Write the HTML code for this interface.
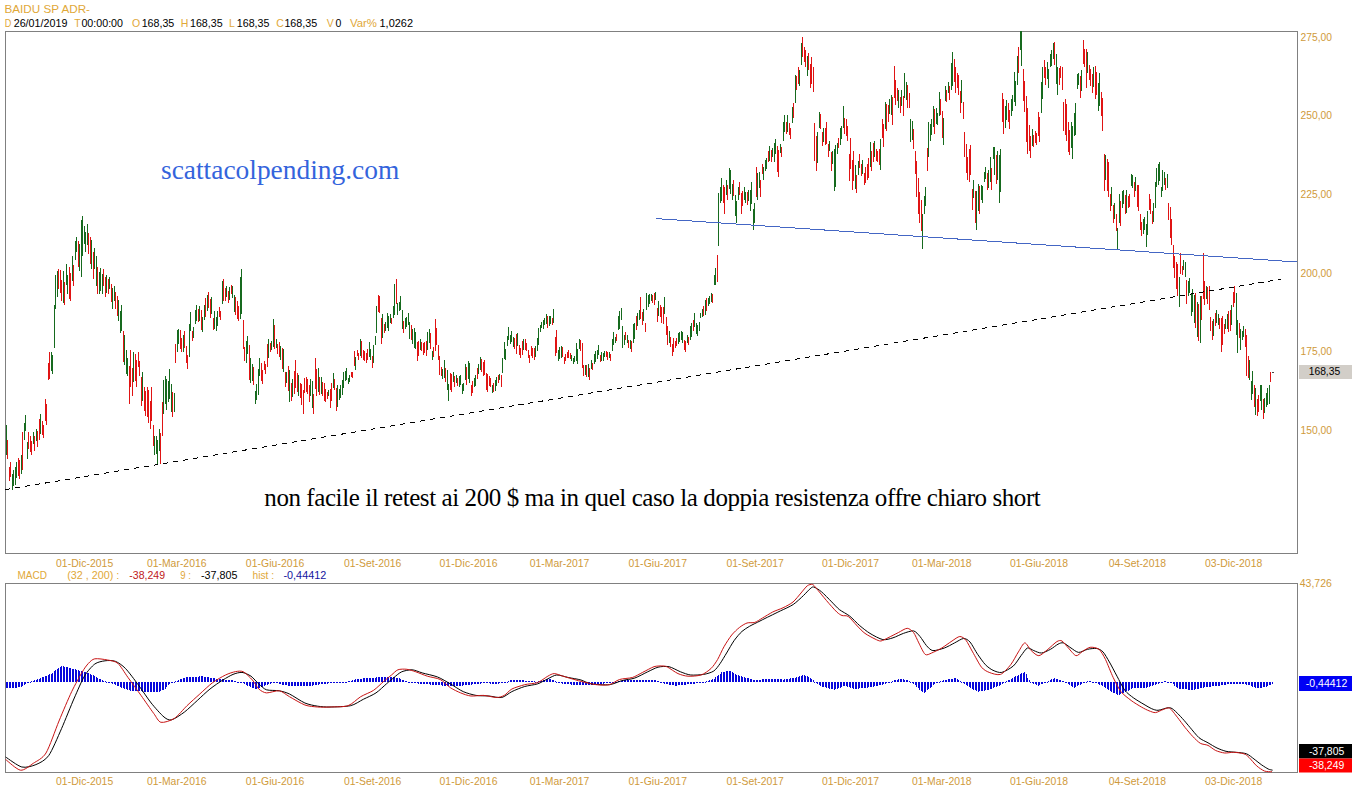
<!DOCTYPE html>
<html><head><meta charset="utf-8"><title>BAIDU SP ADR</title>
<style>
html,body{margin:0;padding:0;background:#fff;}
body{width:1352px;height:800px;overflow:hidden;}
svg{display:block;font-family:"Liberation Sans",Arial,sans-serif;}
.serif{font-family:"Liberation Serif","Times New Roman",serif;}
</style></head><body>
<svg width="1352" height="800" viewBox="0 0 1352 800">
<rect width="1352" height="800" fill="#fff"/>
<!-- frames -->
<g fill="none" stroke="#808080" stroke-width="1" shape-rendering="crispEdges">
<rect x="5.5" y="31.5" width="1292" height="522"/>
<rect x="5.5" y="583.5" width="1292" height="189"/>
</g>
<!-- price bars -->
<g shape-rendering="crispEdges">
<rect x="6" y="425.0" width="1" height="30.0" fill="#166a1e"/>
<rect x="7" y="440.0" width="1" height="19.0" fill="#e01414"/>
<rect x="9" y="466.5" width="1" height="14.5" fill="#e01414"/>
<rect x="10" y="462.0" width="1" height="14.6" fill="#e01414"/>
<rect x="12" y="474.4" width="1" height="15.6" fill="#166a1e"/>
<rect x="13" y="470.0" width="1" height="15.5" fill="#166a1e"/>
<rect x="15" y="467.0" width="1" height="18.0" fill="#166a1e"/>
<rect x="16" y="462.0" width="1" height="15.7" fill="#166a1e"/>
<rect x="18" y="458.1" width="1" height="18.3" fill="#e01414"/>
<rect x="19" y="459.8" width="1" height="19.1" fill="#e01414"/>
<rect x="21" y="455.0" width="1" height="19.0" fill="#166a1e"/>
<rect x="22" y="432.0" width="1" height="38.0" fill="#e01414"/>
<rect x="24" y="422.9" width="1" height="17.1" fill="#166a1e"/>
<rect x="25" y="415.0" width="1" height="16.2" fill="#166a1e"/>
<rect x="27" y="442.1" width="1" height="16.9" fill="#166a1e"/>
<rect x="28" y="432.0" width="1" height="17.1" fill="#e01414"/>
<rect x="30" y="436.0" width="1" height="15.9" fill="#e01414"/>
<rect x="31" y="440.8" width="1" height="14.2" fill="#e01414"/>
<rect x="33" y="432.1" width="1" height="11.5" fill="#166a1e"/>
<rect x="34" y="436.2" width="1" height="14.3" fill="#e01414"/>
<rect x="36" y="429.0" width="1" height="12.3" fill="#166a1e"/>
<rect x="37" y="431.3" width="1" height="15.7" fill="#e01414"/>
<rect x="39" y="419.1" width="1" height="20.9" fill="#e01414"/>
<rect x="40" y="414.0" width="1" height="20.1" fill="#166a1e"/>
<rect x="42" y="421.0" width="1" height="13.5" fill="#e01414"/>
<rect x="43" y="425.4" width="1" height="12.6" fill="#e01414"/>
<rect x="45" y="399.0" width="1" height="21.8" fill="#e01414"/>
<rect x="46" y="404.2" width="1" height="20.8" fill="#e01414"/>
<rect x="48" y="362.6" width="1" height="17.4" fill="#e01414"/>
<rect x="49" y="352.0" width="1" height="26.6" fill="#e01414"/>
<rect x="51" y="352.0" width="1" height="18.8" fill="#166a1e"/>
<rect x="52" y="355.4" width="1" height="18.6" fill="#166a1e"/>
<rect x="54" y="305.0" width="1" height="43.0" fill="#166a1e"/>
<rect x="55" y="275.0" width="1" height="34.0" fill="#166a1e"/>
<rect x="57" y="271.0" width="1" height="26.0" fill="#166a1e"/>
<rect x="58" y="269.0" width="1" height="20.0" fill="#e01414"/>
<rect x="60" y="270.0" width="1" height="23.3" fill="#e01414"/>
<rect x="61" y="280.2" width="1" height="20.8" fill="#e01414"/>
<rect x="63" y="271.0" width="1" height="31.8" fill="#166a1e"/>
<rect x="64" y="282.2" width="1" height="22.8" fill="#e01414"/>
<rect x="66" y="264.0" width="1" height="20.7" fill="#166a1e"/>
<rect x="67" y="274.5" width="1" height="19.5" fill="#166a1e"/>
<rect x="69" y="267.0" width="1" height="32.1" fill="#e01414"/>
<rect x="70" y="273.2" width="1" height="27.8" fill="#e01414"/>
<rect x="72" y="256.0" width="1" height="24.8" fill="#166a1e"/>
<rect x="73" y="265.2" width="1" height="20.8" fill="#e01414"/>
<rect x="75" y="240.7" width="1" height="19.3" fill="#166a1e"/>
<rect x="76" y="237.0" width="1" height="14.9" fill="#166a1e"/>
<rect x="78" y="241.0" width="1" height="26.1" fill="#e01414"/>
<rect x="79" y="243.7" width="1" height="27.3" fill="#166a1e"/>
<rect x="81" y="220.3" width="1" height="56.7" fill="#166a1e"/>
<rect x="82" y="216.0" width="1" height="39.9" fill="#166a1e"/>
<rect x="84" y="226.0" width="1" height="17.6" fill="#166a1e"/>
<rect x="85" y="232.1" width="1" height="19.9" fill="#166a1e"/>
<rect x="87" y="224.0" width="1" height="20.5" fill="#166a1e"/>
<rect x="88" y="232.7" width="1" height="21.3" fill="#e01414"/>
<rect x="90" y="237.0" width="1" height="26.6" fill="#e01414"/>
<rect x="91" y="239.8" width="1" height="29.2" fill="#166a1e"/>
<rect x="93" y="251.9" width="1" height="26.6" fill="#e01414"/>
<rect x="94" y="247.6" width="1" height="21.3" fill="#166a1e"/>
<rect x="96" y="256.0" width="1" height="30.0" fill="#166a1e"/>
<rect x="97" y="267.0" width="1" height="27.0" fill="#e01414"/>
<rect x="99" y="271.9" width="1" height="22.1" fill="#166a1e"/>
<rect x="100" y="268.0" width="1" height="23.0" fill="#166a1e"/>
<rect x="102" y="273.5" width="1" height="20.5" fill="#166a1e"/>
<rect x="103" y="269.0" width="1" height="17.2" fill="#e01414"/>
<rect x="105" y="276.8" width="1" height="20.2" fill="#e01414"/>
<rect x="106" y="275.0" width="1" height="18.3" fill="#166a1e"/>
<rect x="108" y="279.3" width="1" height="14.7" fill="#e01414"/>
<rect x="109" y="277.0" width="1" height="11.7" fill="#166a1e"/>
<rect x="111" y="284.0" width="1" height="18.2" fill="#e01414"/>
<rect x="112" y="287.7" width="1" height="21.3" fill="#166a1e"/>
<rect x="114" y="286.0" width="1" height="14.9" fill="#166a1e"/>
<rect x="115" y="291.6" width="1" height="17.4" fill="#e01414"/>
<rect x="117" y="295.5" width="1" height="20.9" fill="#e01414"/>
<rect x="118" y="299.9" width="1" height="21.1" fill="#166a1e"/>
<rect x="120" y="310.9" width="1" height="22.1" fill="#166a1e"/>
<rect x="121" y="305.0" width="1" height="26.2" fill="#166a1e"/>
<rect x="123" y="331.0" width="1" height="30.8" fill="#e01414"/>
<rect x="124" y="334.8" width="1" height="30.2" fill="#166a1e"/>
<rect x="126" y="350.0" width="1" height="23.9" fill="#166a1e"/>
<rect x="127" y="358.3" width="1" height="17.7" fill="#166a1e"/>
<rect x="129" y="365.9" width="1" height="38.1" fill="#e01414"/>
<rect x="130" y="350.0" width="1" height="36.9" fill="#e01414"/>
<rect x="132" y="367.8" width="1" height="27.7" fill="#e01414"/>
<rect x="133" y="352.0" width="1" height="29.8" fill="#166a1e"/>
<rect x="135" y="354.0" width="1" height="27.0" fill="#e01414"/>
<rect x="136" y="360.2" width="1" height="26.8" fill="#e01414"/>
<rect x="138" y="352.0" width="1" height="15.2" fill="#e01414"/>
<rect x="139" y="360.8" width="1" height="15.2" fill="#e01414"/>
<rect x="141" y="376.6" width="1" height="29.4" fill="#e01414"/>
<rect x="142" y="372.0" width="1" height="29.0" fill="#166a1e"/>
<rect x="144" y="387.0" width="1" height="23.7" fill="#e01414"/>
<rect x="145" y="391.3" width="1" height="24.7" fill="#e01414"/>
<rect x="147" y="387.0" width="1" height="30.4" fill="#e01414"/>
<rect x="148" y="389.6" width="1" height="32.9" fill="#e01414"/>
<rect x="150" y="400.9" width="1" height="28.1" fill="#e01414"/>
<rect x="151" y="387.0" width="1" height="33.8" fill="#e01414"/>
<rect x="153" y="425.0" width="1" height="21.4" fill="#e01414"/>
<rect x="154" y="435.6" width="1" height="19.4" fill="#166a1e"/>
<rect x="156" y="436.0" width="1" height="17.5" fill="#166a1e"/>
<rect x="157" y="439.9" width="1" height="24.1" fill="#166a1e"/>
<rect x="159" y="429.0" width="1" height="22.4" fill="#166a1e"/>
<rect x="160" y="432.8" width="1" height="31.2" fill="#e01414"/>
<rect x="162" y="402.0" width="1" height="34.0" fill="#e01414"/>
<rect x="163" y="380.0" width="1" height="34.0" fill="#166a1e"/>
<rect x="165" y="376.0" width="1" height="27.5" fill="#166a1e"/>
<rect x="166" y="379.2" width="1" height="30.8" fill="#166a1e"/>
<rect x="168" y="381.3" width="1" height="20.7" fill="#166a1e"/>
<rect x="169" y="369.0" width="1" height="30.2" fill="#166a1e"/>
<rect x="171" y="384.0" width="1" height="28.0" fill="#166a1e"/>
<rect x="172" y="392.0" width="1" height="25.0" fill="#e01414"/>
<rect x="174" y="393.0" width="1" height="19.0" fill="#166a1e"/>
<rect x="175" y="344.0" width="1" height="19.0" fill="#e01414"/>
<rect x="177" y="330.3" width="1" height="21.7" fill="#166a1e"/>
<rect x="178" y="329.0" width="1" height="14.5" fill="#166a1e"/>
<rect x="180" y="330.0" width="1" height="18.7" fill="#e01414"/>
<rect x="181" y="338.1" width="1" height="13.9" fill="#e01414"/>
<rect x="183" y="335.4" width="1" height="16.6" fill="#166a1e"/>
<rect x="184" y="331.0" width="1" height="17.4" fill="#e01414"/>
<rect x="186" y="346.0" width="1" height="16.7" fill="#e01414"/>
<rect x="187" y="354.7" width="1" height="14.3" fill="#e01414"/>
<rect x="189" y="324.0" width="1" height="33.0" fill="#166a1e"/>
<rect x="190" y="312.0" width="1" height="19.0" fill="#166a1e"/>
<rect x="192" y="330.8" width="1" height="10.2" fill="#e01414"/>
<rect x="193" y="326.5" width="1" height="11.6" fill="#166a1e"/>
<rect x="195" y="310.4" width="1" height="13.6" fill="#166a1e"/>
<rect x="196" y="305.0" width="1" height="16.4" fill="#166a1e"/>
<rect x="198" y="308.7" width="1" height="13.3" fill="#e01414"/>
<rect x="199" y="306.0" width="1" height="14.8" fill="#166a1e"/>
<rect x="201" y="310.0" width="1" height="20.2" fill="#e01414"/>
<rect x="202" y="317.4" width="1" height="14.6" fill="#166a1e"/>
<rect x="204" y="305.4" width="1" height="14.6" fill="#166a1e"/>
<rect x="205" y="298.0" width="1" height="19.4" fill="#e01414"/>
<rect x="207" y="295.0" width="1" height="16.0" fill="#166a1e"/>
<rect x="208" y="291.6" width="1" height="16.0" fill="#e01414"/>
<rect x="210" y="298.6" width="1" height="18.9" fill="#e01414"/>
<rect x="211" y="297.0" width="1" height="16.8" fill="#166a1e"/>
<rect x="213" y="317.5" width="1" height="12.5" fill="#e01414"/>
<rect x="214" y="311.0" width="1" height="18.0" fill="#166a1e"/>
<rect x="216" y="316.9" width="1" height="14.1" fill="#166a1e"/>
<rect x="217" y="311.0" width="1" height="15.0" fill="#166a1e"/>
<rect x="219" y="307.0" width="1" height="9.9" fill="#e01414"/>
<rect x="220" y="311.2" width="1" height="8.8" fill="#e01414"/>
<rect x="222" y="280.5" width="1" height="23.5" fill="#166a1e"/>
<rect x="223" y="279.0" width="1" height="21.7" fill="#e01414"/>
<rect x="225" y="287.8" width="1" height="12.8" fill="#e01414"/>
<rect x="226" y="286.0" width="1" height="11.4" fill="#166a1e"/>
<rect x="228" y="291.0" width="1" height="12.0" fill="#e01414"/>
<rect x="229" y="287.0" width="1" height="12.5" fill="#166a1e"/>
<rect x="231" y="285.0" width="1" height="9.2" fill="#e01414"/>
<rect x="232" y="285.7" width="1" height="12.3" fill="#166a1e"/>
<rect x="234" y="295.0" width="1" height="16.9" fill="#166a1e"/>
<rect x="235" y="297.3" width="1" height="17.7" fill="#e01414"/>
<rect x="237" y="300.6" width="1" height="18.7" fill="#e01414"/>
<rect x="238" y="306.1" width="1" height="14.9" fill="#e01414"/>
<rect x="240" y="276.8" width="1" height="41.8" fill="#166a1e"/>
<rect x="241" y="269.0" width="1" height="45.3" fill="#166a1e"/>
<rect x="243" y="320.0" width="1" height="29.0" fill="#e01414"/>
<rect x="244" y="347.0" width="1" height="14.0" fill="#e01414"/>
<rect x="246" y="340.7" width="1" height="21.8" fill="#166a1e"/>
<rect x="247" y="335.5" width="1" height="18.5" fill="#166a1e"/>
<rect x="249" y="344.5" width="1" height="35.5" fill="#e01414"/>
<rect x="250" y="357.6" width="1" height="25.4" fill="#166a1e"/>
<rect x="252" y="363.6" width="1" height="17.4" fill="#166a1e"/>
<rect x="253" y="366.9" width="1" height="18.1" fill="#e01414"/>
<rect x="255" y="390.5" width="1" height="13.5" fill="#166a1e"/>
<rect x="256" y="384.0" width="1" height="15.7" fill="#166a1e"/>
<rect x="258" y="369.0" width="1" height="26.0" fill="#166a1e"/>
<rect x="259" y="358.0" width="1" height="18.0" fill="#166a1e"/>
<rect x="261" y="362.5" width="1" height="18.4" fill="#e01414"/>
<rect x="262" y="370.3" width="1" height="13.7" fill="#e01414"/>
<rect x="264" y="361.0" width="1" height="8.8" fill="#e01414"/>
<rect x="265" y="363.6" width="1" height="10.4" fill="#e01414"/>
<rect x="267" y="344.2" width="1" height="22.8" fill="#e01414"/>
<rect x="268" y="339.0" width="1" height="19.3" fill="#166a1e"/>
<rect x="270" y="342.7" width="1" height="9.3" fill="#e01414"/>
<rect x="271" y="341.0" width="1" height="8.6" fill="#166a1e"/>
<rect x="273" y="318.6" width="1" height="28.7" fill="#166a1e"/>
<rect x="274" y="324.7" width="1" height="24.3" fill="#e01414"/>
<rect x="276" y="339.0" width="1" height="9.1" fill="#166a1e"/>
<rect x="277" y="343.9" width="1" height="9.6" fill="#e01414"/>
<rect x="279" y="342.0" width="1" height="15.4" fill="#e01414"/>
<rect x="280" y="346.3" width="1" height="13.7" fill="#166a1e"/>
<rect x="282" y="348.0" width="1" height="20.7" fill="#e01414"/>
<rect x="283" y="349.3" width="1" height="22.2" fill="#166a1e"/>
<rect x="285" y="372.4" width="1" height="14.6" fill="#e01414"/>
<rect x="286" y="371.5" width="1" height="11.9" fill="#166a1e"/>
<rect x="288" y="366.0" width="1" height="25.1" fill="#e01414"/>
<rect x="289" y="369.5" width="1" height="32.5" fill="#166a1e"/>
<rect x="291" y="383.3" width="1" height="17.7" fill="#e01414"/>
<rect x="292" y="379.0" width="1" height="18.2" fill="#166a1e"/>
<rect x="294" y="370.8" width="1" height="23.2" fill="#e01414"/>
<rect x="295" y="360.0" width="1" height="28.4" fill="#e01414"/>
<rect x="297" y="372.6" width="1" height="19.8" fill="#e01414"/>
<rect x="298" y="375.3" width="1" height="20.7" fill="#166a1e"/>
<rect x="300" y="383.0" width="1" height="14.9" fill="#e01414"/>
<rect x="301" y="384.2" width="1" height="20.8" fill="#e01414"/>
<rect x="303" y="389.5" width="1" height="24.5" fill="#e01414"/>
<rect x="304" y="378.0" width="1" height="15.0" fill="#e01414"/>
<rect x="306" y="377.0" width="1" height="14.5" fill="#e01414"/>
<rect x="307" y="378.9" width="1" height="15.1" fill="#e01414"/>
<rect x="309" y="385.4" width="1" height="16.4" fill="#e01414"/>
<rect x="310" y="379.0" width="1" height="16.7" fill="#166a1e"/>
<rect x="312" y="380.5" width="1" height="27.0" fill="#166a1e"/>
<rect x="313" y="394.0" width="1" height="20.0" fill="#e01414"/>
<rect x="315" y="358.0" width="1" height="31.3" fill="#e01414"/>
<rect x="316" y="369.4" width="1" height="26.6" fill="#e01414"/>
<rect x="318" y="367.8" width="1" height="23.9" fill="#166a1e"/>
<rect x="319" y="377.3" width="1" height="17.7" fill="#e01414"/>
<rect x="321" y="377.0" width="1" height="17.0" fill="#166a1e"/>
<rect x="322" y="381.6" width="1" height="14.4" fill="#e01414"/>
<rect x="324" y="383.0" width="1" height="17.6" fill="#e01414"/>
<rect x="325" y="388.5" width="1" height="13.5" fill="#e01414"/>
<rect x="327" y="391.8" width="1" height="6.7" fill="#e01414"/>
<rect x="328" y="389.5" width="1" height="6.9" fill="#166a1e"/>
<rect x="330" y="388.8" width="1" height="18.7" fill="#e01414"/>
<rect x="331" y="383.0" width="1" height="18.2" fill="#e01414"/>
<rect x="333" y="372.6" width="1" height="14.9" fill="#166a1e"/>
<rect x="334" y="378.7" width="1" height="10.8" fill="#e01414"/>
<rect x="336" y="388.1" width="1" height="22.9" fill="#e01414"/>
<rect x="337" y="385.0" width="1" height="21.7" fill="#166a1e"/>
<rect x="339" y="388.8" width="1" height="10.8" fill="#166a1e"/>
<rect x="340" y="385.0" width="1" height="13.0" fill="#166a1e"/>
<rect x="342" y="379.7" width="1" height="15.3" fill="#166a1e"/>
<rect x="343" y="371.5" width="1" height="16.2" fill="#166a1e"/>
<rect x="345" y="370.8" width="1" height="9.7" fill="#166a1e"/>
<rect x="346" y="368.0" width="1" height="11.8" fill="#166a1e"/>
<rect x="348" y="378.2" width="1" height="5.8" fill="#166a1e"/>
<rect x="349" y="375.0" width="1" height="6.5" fill="#166a1e"/>
<rect x="351" y="371.5" width="1" height="5.9" fill="#e01414"/>
<rect x="352" y="371.6" width="1" height="6.4" fill="#e01414"/>
<rect x="354" y="351.0" width="1" height="15.2" fill="#e01414"/>
<rect x="355" y="356.8" width="1" height="13.2" fill="#166a1e"/>
<rect x="357" y="350.0" width="1" height="6.3" fill="#e01414"/>
<rect x="358" y="353.2" width="1" height="6.8" fill="#e01414"/>
<rect x="360" y="339.0" width="1" height="16.8" fill="#166a1e"/>
<rect x="361" y="341.0" width="1" height="17.0" fill="#e01414"/>
<rect x="363" y="350.0" width="1" height="9.7" fill="#e01414"/>
<rect x="364" y="351.1" width="1" height="9.9" fill="#e01414"/>
<rect x="366" y="352.9" width="1" height="9.6" fill="#e01414"/>
<rect x="367" y="349.0" width="1" height="10.7" fill="#e01414"/>
<rect x="369" y="342.0" width="1" height="15.3" fill="#166a1e"/>
<rect x="370" y="348.5" width="1" height="11.5" fill="#166a1e"/>
<rect x="372" y="356.0" width="1" height="12.0" fill="#e01414"/>
<rect x="373" y="344.5" width="1" height="18.0" fill="#166a1e"/>
<rect x="375" y="335.5" width="1" height="9.0" fill="#166a1e"/>
<rect x="376" y="306.0" width="1" height="27.0" fill="#166a1e"/>
<rect x="378" y="295.0" width="1" height="16.8" fill="#e01414"/>
<rect x="379" y="296.4" width="1" height="16.6" fill="#e01414"/>
<rect x="381" y="318.4" width="1" height="25.6" fill="#e01414"/>
<rect x="382" y="314.0" width="1" height="23.8" fill="#166a1e"/>
<rect x="384" y="324.4" width="1" height="8.6" fill="#e01414"/>
<rect x="385" y="322.0" width="1" height="9.1" fill="#166a1e"/>
<rect x="387" y="313.0" width="1" height="14.5" fill="#166a1e"/>
<rect x="388" y="315.8" width="1" height="15.2" fill="#166a1e"/>
<rect x="390" y="314.0" width="1" height="9.0" fill="#166a1e"/>
<rect x="391" y="317.5" width="1" height="6.5" fill="#e01414"/>
<rect x="393" y="306.0" width="1" height="11.5" fill="#166a1e"/>
<rect x="394" y="284.0" width="1" height="31.0" fill="#166a1e"/>
<rect x="396" y="279.0" width="1" height="25.0" fill="#e01414"/>
<rect x="397" y="303.0" width="1" height="12.0" fill="#166a1e"/>
<rect x="399" y="301.5" width="1" height="9.5" fill="#166a1e"/>
<rect x="400" y="296.0" width="1" height="13.5" fill="#166a1e"/>
<rect x="402" y="309.6" width="1" height="19.4" fill="#166a1e"/>
<rect x="403" y="321.0" width="1" height="12.0" fill="#e01414"/>
<rect x="405" y="318.1" width="1" height="10.6" fill="#166a1e"/>
<rect x="406" y="316.8" width="1" height="9.7" fill="#166a1e"/>
<rect x="408" y="313.0" width="1" height="12.0" fill="#166a1e"/>
<rect x="409" y="322.0" width="1" height="17.0" fill="#166a1e"/>
<rect x="411" y="324.6" width="1" height="15.0" fill="#e01414"/>
<rect x="412" y="329.4" width="1" height="14.3" fill="#166a1e"/>
<rect x="414" y="327.6" width="1" height="20.1" fill="#166a1e"/>
<rect x="415" y="332.3" width="1" height="16.7" fill="#166a1e"/>
<rect x="417" y="342.0" width="1" height="19.0" fill="#e01414"/>
<rect x="418" y="341.0" width="1" height="15.0" fill="#e01414"/>
<rect x="420" y="339.0" width="1" height="10.6" fill="#166a1e"/>
<rect x="421" y="341.8" width="1" height="9.2" fill="#e01414"/>
<rect x="423" y="342.9" width="1" height="11.7" fill="#e01414"/>
<rect x="424" y="342.0" width="1" height="10.7" fill="#e01414"/>
<rect x="426" y="340.8" width="1" height="15.2" fill="#e01414"/>
<rect x="427" y="332.0" width="1" height="18.2" fill="#166a1e"/>
<rect x="429" y="329.0" width="1" height="14.2" fill="#166a1e"/>
<rect x="430" y="333.1" width="1" height="15.9" fill="#e01414"/>
<rect x="432" y="351.1" width="1" height="8.9" fill="#166a1e"/>
<rect x="433" y="347.0" width="1" height="9.9" fill="#e01414"/>
<rect x="435" y="319.0" width="1" height="32.0" fill="#e01414"/>
<rect x="436" y="327.6" width="1" height="16.9" fill="#e01414"/>
<rect x="438" y="344.5" width="1" height="15.5" fill="#e01414"/>
<rect x="439" y="356.0" width="1" height="19.0" fill="#e01414"/>
<rect x="441" y="367.0" width="1" height="9.3" fill="#e01414"/>
<rect x="442" y="368.9" width="1" height="10.1" fill="#166a1e"/>
<rect x="444" y="360.0" width="1" height="17.8" fill="#166a1e"/>
<rect x="445" y="367.7" width="1" height="13.9" fill="#e01414"/>
<rect x="447" y="370.0" width="1" height="19.5" fill="#166a1e"/>
<rect x="448" y="384.0" width="1" height="17.0" fill="#166a1e"/>
<rect x="450" y="372.6" width="1" height="17.0" fill="#e01414"/>
<rect x="451" y="373.7" width="1" height="18.3" fill="#e01414"/>
<rect x="453" y="371.5" width="1" height="10.8" fill="#166a1e"/>
<rect x="454" y="375.8" width="1" height="11.2" fill="#e01414"/>
<rect x="456" y="375.0" width="1" height="8.1" fill="#166a1e"/>
<rect x="457" y="377.8" width="1" height="8.2" fill="#e01414"/>
<rect x="459" y="376.1" width="1" height="10.9" fill="#166a1e"/>
<rect x="460" y="375.0" width="1" height="10.3" fill="#166a1e"/>
<rect x="462" y="384.3" width="1" height="9.7" fill="#166a1e"/>
<rect x="463" y="383.0" width="1" height="7.7" fill="#166a1e"/>
<rect x="465" y="363.6" width="1" height="16.4" fill="#166a1e"/>
<rect x="466" y="367.3" width="1" height="17.7" fill="#e01414"/>
<rect x="468" y="361.0" width="1" height="17.5" fill="#166a1e"/>
<rect x="469" y="363.3" width="1" height="19.7" fill="#166a1e"/>
<rect x="471" y="384.5" width="1" height="11.5" fill="#e01414"/>
<rect x="472" y="380.5" width="1" height="12.8" fill="#e01414"/>
<rect x="474" y="378.0" width="1" height="9.0" fill="#166a1e"/>
<rect x="475" y="375.0" width="1" height="10.8" fill="#166a1e"/>
<rect x="477" y="368.1" width="1" height="10.9" fill="#e01414"/>
<rect x="478" y="363.6" width="1" height="10.7" fill="#166a1e"/>
<rect x="480" y="357.0" width="1" height="13.3" fill="#166a1e"/>
<rect x="481" y="359.2" width="1" height="12.3" fill="#e01414"/>
<rect x="483" y="362.0" width="1" height="14.0" fill="#e01414"/>
<rect x="484" y="360.0" width="1" height="14.8" fill="#e01414"/>
<rect x="486" y="372.6" width="1" height="17.7" fill="#e01414"/>
<rect x="487" y="374.4" width="1" height="17.6" fill="#e01414"/>
<rect x="489" y="376.0" width="1" height="9.5" fill="#e01414"/>
<rect x="490" y="377.5" width="1" height="9.5" fill="#e01414"/>
<rect x="492" y="384.9" width="1" height="8.1" fill="#166a1e"/>
<rect x="493" y="383.0" width="1" height="8.9" fill="#e01414"/>
<rect x="495" y="379.5" width="1" height="11.1" fill="#166a1e"/>
<rect x="496" y="377.0" width="1" height="9.0" fill="#166a1e"/>
<rect x="498" y="375.0" width="1" height="8.0" fill="#e01414"/>
<rect x="499" y="374.0" width="1" height="5.6" fill="#166a1e"/>
<rect x="501" y="375.0" width="1" height="12.0" fill="#e01414"/>
<rect x="502" y="358.0" width="1" height="14.6" fill="#166a1e"/>
<rect x="504" y="342.0" width="1" height="16.6" fill="#166a1e"/>
<rect x="505" y="348.7" width="1" height="11.3" fill="#166a1e"/>
<rect x="507" y="335.5" width="1" height="10.1" fill="#166a1e"/>
<rect x="508" y="326.5" width="1" height="13.5" fill="#166a1e"/>
<rect x="510" y="335.2" width="1" height="9.1" fill="#166a1e"/>
<rect x="511" y="331.3" width="1" height="10.2" fill="#166a1e"/>
<rect x="513" y="336.6" width="1" height="10.5" fill="#166a1e"/>
<rect x="514" y="338.0" width="1" height="11.0" fill="#e01414"/>
<rect x="516" y="334.3" width="1" height="19.2" fill="#e01414"/>
<rect x="517" y="333.0" width="1" height="13.4" fill="#166a1e"/>
<rect x="519" y="344.5" width="1" height="10.7" fill="#e01414"/>
<rect x="520" y="347.7" width="1" height="10.3" fill="#e01414"/>
<rect x="522" y="340.8" width="1" height="13.8" fill="#e01414"/>
<rect x="523" y="339.0" width="1" height="10.6" fill="#166a1e"/>
<rect x="525" y="339.0" width="1" height="11.4" fill="#e01414"/>
<rect x="526" y="343.3" width="1" height="7.7" fill="#e01414"/>
<rect x="528" y="350.0" width="1" height="8.0" fill="#e01414"/>
<rect x="529" y="354.5" width="1" height="8.0" fill="#e01414"/>
<rect x="531" y="345.6" width="1" height="10.8" fill="#e01414"/>
<rect x="532" y="347.6" width="1" height="10.4" fill="#e01414"/>
<rect x="534" y="348.4" width="1" height="11.6" fill="#e01414"/>
<rect x="535" y="345.6" width="1" height="11.4" fill="#166a1e"/>
<rect x="537" y="338.0" width="1" height="13.0" fill="#166a1e"/>
<rect x="538" y="327.6" width="1" height="16.9" fill="#166a1e"/>
<rect x="540" y="324.8" width="1" height="7.2" fill="#166a1e"/>
<rect x="541" y="322.0" width="1" height="6.2" fill="#166a1e"/>
<rect x="543" y="319.8" width="1" height="9.2" fill="#166a1e"/>
<rect x="544" y="317.5" width="1" height="7.8" fill="#166a1e"/>
<rect x="546" y="314.0" width="1" height="10.3" fill="#166a1e"/>
<rect x="547" y="315.6" width="1" height="12.0" fill="#e01414"/>
<rect x="549" y="316.4" width="1" height="9.8" fill="#166a1e"/>
<rect x="550" y="315.9" width="1" height="8.2" fill="#166a1e"/>
<rect x="552" y="317.5" width="1" height="7.5" fill="#e01414"/>
<rect x="553" y="309.0" width="1" height="14.0" fill="#166a1e"/>
<rect x="555" y="337.3" width="1" height="18.7" fill="#e01414"/>
<rect x="556" y="330.0" width="1" height="23.0" fill="#e01414"/>
<rect x="558" y="349.6" width="1" height="11.4" fill="#166a1e"/>
<rect x="559" y="347.0" width="1" height="11.6" fill="#166a1e"/>
<rect x="561" y="345.6" width="1" height="12.4" fill="#166a1e"/>
<rect x="562" y="347.0" width="1" height="10.0" fill="#e01414"/>
<rect x="564" y="357.3" width="1" height="6.3" fill="#e01414"/>
<rect x="565" y="353.5" width="1" height="7.9" fill="#e01414"/>
<rect x="567" y="351.8" width="1" height="6.2" fill="#e01414"/>
<rect x="568" y="350.0" width="1" height="7.5" fill="#e01414"/>
<rect x="570" y="353.0" width="1" height="6.4" fill="#e01414"/>
<rect x="571" y="354.6" width="1" height="6.4" fill="#166a1e"/>
<rect x="573" y="357.8" width="1" height="6.2" fill="#166a1e"/>
<rect x="574" y="356.0" width="1" height="6.2" fill="#166a1e"/>
<rect x="576" y="343.0" width="1" height="18.3" fill="#166a1e"/>
<rect x="577" y="349.4" width="1" height="14.6" fill="#166a1e"/>
<rect x="579" y="339.0" width="1" height="10.0" fill="#166a1e"/>
<rect x="580" y="339.9" width="1" height="10.7" fill="#e01414"/>
<rect x="582" y="343.0" width="1" height="24.6" fill="#e01414"/>
<rect x="583" y="365.0" width="1" height="10.5" fill="#e01414"/>
<rect x="585" y="364.5" width="1" height="10.0" fill="#166a1e"/>
<rect x="586" y="365.2" width="1" height="12.2" fill="#e01414"/>
<rect x="588" y="364.0" width="1" height="12.9" fill="#166a1e"/>
<rect x="589" y="368.0" width="1" height="11.5" fill="#e01414"/>
<rect x="591" y="360.0" width="1" height="9.3" fill="#166a1e"/>
<rect x="592" y="362.7" width="1" height="7.3" fill="#e01414"/>
<rect x="594" y="353.8" width="1" height="10.2" fill="#166a1e"/>
<rect x="595" y="350.6" width="1" height="11.2" fill="#166a1e"/>
<rect x="597" y="350.1" width="1" height="8.4" fill="#166a1e"/>
<rect x="598" y="345.0" width="1" height="10.1" fill="#166a1e"/>
<rect x="600" y="355.0" width="1" height="7.0" fill="#e01414"/>
<rect x="601" y="352.0" width="1" height="8.5" fill="#166a1e"/>
<rect x="603" y="353.2" width="1" height="7.8" fill="#166a1e"/>
<rect x="604" y="350.6" width="1" height="6.5" fill="#166a1e"/>
<rect x="606" y="350.6" width="1" height="6.6" fill="#e01414"/>
<rect x="607" y="352.3" width="1" height="7.7" fill="#e01414"/>
<rect x="609" y="352.0" width="1" height="6.2" fill="#166a1e"/>
<rect x="610" y="353.6" width="1" height="7.4" fill="#e01414"/>
<rect x="612" y="338.5" width="1" height="12.1" fill="#166a1e"/>
<rect x="613" y="332.0" width="1" height="13.1" fill="#166a1e"/>
<rect x="615" y="337.0" width="1" height="6.0" fill="#166a1e"/>
<rect x="616" y="333.5" width="1" height="7.5" fill="#e01414"/>
<rect x="618" y="315.8" width="1" height="13.8" fill="#166a1e"/>
<rect x="619" y="311.0" width="1" height="17.6" fill="#166a1e"/>
<rect x="621" y="308.0" width="1" height="12.0" fill="#166a1e"/>
<rect x="622" y="325.7" width="1" height="22.3" fill="#166a1e"/>
<rect x="624" y="335.2" width="1" height="9.8" fill="#166a1e"/>
<rect x="625" y="332.0" width="1" height="8.4" fill="#e01414"/>
<rect x="627" y="335.2" width="1" height="8.0" fill="#166a1e"/>
<rect x="628" y="339.7" width="1" height="8.1" fill="#e01414"/>
<rect x="630" y="340.0" width="1" height="9.3" fill="#166a1e"/>
<rect x="631" y="341.3" width="1" height="10.7" fill="#e01414"/>
<rect x="633" y="324.4" width="1" height="18.6" fill="#166a1e"/>
<rect x="634" y="323.0" width="1" height="16.4" fill="#166a1e"/>
<rect x="636" y="316.3" width="1" height="13.3" fill="#e01414"/>
<rect x="637" y="312.5" width="1" height="13.0" fill="#166a1e"/>
<rect x="639" y="310.0" width="1" height="10.0" fill="#166a1e"/>
<rect x="640" y="297.0" width="1" height="22.0" fill="#e01414"/>
<rect x="642" y="311.5" width="1" height="13.6" fill="#e01414"/>
<rect x="643" y="309.2" width="1" height="11.8" fill="#166a1e"/>
<rect x="645" y="323.0" width="1" height="9.0" fill="#e01414"/>
<rect x="646" y="293.0" width="1" height="17.0" fill="#166a1e"/>
<rect x="648" y="295.4" width="1" height="11.1" fill="#166a1e"/>
<rect x="649" y="293.5" width="1" height="10.5" fill="#166a1e"/>
<rect x="651" y="294.0" width="1" height="6.5" fill="#166a1e"/>
<rect x="652" y="294.5" width="1" height="8.5" fill="#e01414"/>
<rect x="654" y="293.3" width="1" height="11.4" fill="#e01414"/>
<rect x="655" y="292.0" width="1" height="8.1" fill="#166a1e"/>
<rect x="657" y="308.0" width="1" height="13.7" fill="#e01414"/>
<rect x="658" y="300.7" width="1" height="15.7" fill="#166a1e"/>
<rect x="660" y="304.7" width="1" height="11.8" fill="#e01414"/>
<rect x="661" y="307.0" width="1" height="16.0" fill="#e01414"/>
<rect x="663" y="307.2" width="1" height="16.8" fill="#e01414"/>
<rect x="664" y="297.0" width="1" height="17.2" fill="#166a1e"/>
<rect x="666" y="316.5" width="1" height="18.4" fill="#e01414"/>
<rect x="667" y="326.4" width="1" height="18.6" fill="#e01414"/>
<rect x="669" y="331.0" width="1" height="12.2" fill="#166a1e"/>
<rect x="670" y="336.8" width="1" height="9.9" fill="#e01414"/>
<rect x="672" y="344.1" width="1" height="11.9" fill="#e01414"/>
<rect x="673" y="337.5" width="1" height="14.7" fill="#e01414"/>
<rect x="675" y="341.4" width="1" height="6.6" fill="#e01414"/>
<rect x="676" y="337.5" width="1" height="8.1" fill="#e01414"/>
<rect x="678" y="333.1" width="1" height="10.9" fill="#166a1e"/>
<rect x="679" y="332.0" width="1" height="9.8" fill="#166a1e"/>
<rect x="681" y="331.0" width="1" height="9.0" fill="#166a1e"/>
<rect x="682" y="332.4" width="1" height="10.3" fill="#166a1e"/>
<rect x="684" y="340.0" width="1" height="9.5" fill="#e01414"/>
<rect x="685" y="341.1" width="1" height="10.9" fill="#e01414"/>
<rect x="687" y="335.0" width="1" height="8.4" fill="#166a1e"/>
<rect x="688" y="337.0" width="1" height="8.0" fill="#e01414"/>
<rect x="690" y="326.2" width="1" height="13.8" fill="#166a1e"/>
<rect x="691" y="323.0" width="1" height="13.8" fill="#166a1e"/>
<rect x="693" y="319.5" width="1" height="11.5" fill="#e01414"/>
<rect x="694" y="312.5" width="1" height="14.7" fill="#166a1e"/>
<rect x="696" y="323.0" width="1" height="11.2" fill="#166a1e"/>
<rect x="697" y="324.7" width="1" height="11.3" fill="#166a1e"/>
<rect x="699" y="321.7" width="1" height="9.3" fill="#166a1e"/>
<rect x="700" y="312.5" width="1" height="5.5" fill="#166a1e"/>
<rect x="702" y="309.2" width="1" height="7.3" fill="#166a1e"/>
<rect x="703" y="306.0" width="1" height="9.6" fill="#e01414"/>
<rect x="705" y="300.4" width="1" height="14.6" fill="#166a1e"/>
<rect x="706" y="298.0" width="1" height="12.6" fill="#e01414"/>
<rect x="708" y="298.1" width="1" height="7.9" fill="#166a1e"/>
<rect x="709" y="295.5" width="1" height="8.5" fill="#166a1e"/>
<rect x="711" y="293.0" width="1" height="8.7" fill="#166a1e"/>
<rect x="712" y="294.1" width="1" height="8.9" fill="#e01414"/>
<rect x="714" y="274.5" width="1" height="10.5" fill="#166a1e"/>
<rect x="715" y="268.0" width="1" height="17.0" fill="#166a1e"/>
<rect x="717" y="255.0" width="1" height="27.0" fill="#e01414"/>
<rect x="718" y="192.5" width="1" height="53.1" fill="#166a1e"/>
<rect x="720" y="186.6" width="1" height="15.9" fill="#166a1e"/>
<rect x="721" y="178.0" width="1" height="23.1" fill="#166a1e"/>
<rect x="723" y="185.0" width="1" height="18.4" fill="#e01414"/>
<rect x="724" y="187.0" width="1" height="27.0" fill="#e01414"/>
<rect x="726" y="179.5" width="1" height="15.3" fill="#166a1e"/>
<rect x="727" y="184.6" width="1" height="15.0" fill="#e01414"/>
<rect x="729" y="168.0" width="1" height="20.8" fill="#166a1e"/>
<rect x="730" y="169.9" width="1" height="24.1" fill="#166a1e"/>
<rect x="732" y="184.2" width="1" height="15.4" fill="#166a1e"/>
<rect x="733" y="179.5" width="1" height="16.9" fill="#e01414"/>
<rect x="735" y="195.0" width="1" height="20.5" fill="#166a1e"/>
<rect x="736" y="200.7" width="1" height="21.9" fill="#166a1e"/>
<rect x="738" y="187.2" width="1" height="12.4" fill="#166a1e"/>
<rect x="739" y="182.0" width="1" height="12.9" fill="#e01414"/>
<rect x="741" y="193.1" width="1" height="20.9" fill="#e01414"/>
<rect x="742" y="191.0" width="1" height="14.8" fill="#e01414"/>
<rect x="744" y="186.7" width="1" height="13.0" fill="#166a1e"/>
<rect x="745" y="191.5" width="1" height="11.0" fill="#166a1e"/>
<rect x="747" y="191.7" width="1" height="13.3" fill="#e01414"/>
<rect x="748" y="189.6" width="1" height="11.7" fill="#166a1e"/>
<rect x="750" y="189.7" width="1" height="21.3" fill="#166a1e"/>
<rect x="751" y="182.0" width="1" height="21.5" fill="#166a1e"/>
<rect x="753" y="208.9" width="1" height="21.1" fill="#166a1e"/>
<rect x="754" y="202.5" width="1" height="20.0" fill="#166a1e"/>
<rect x="756" y="166.6" width="1" height="30.5" fill="#e01414"/>
<rect x="757" y="172.9" width="1" height="26.7" fill="#166a1e"/>
<rect x="759" y="172.0" width="1" height="16.2" fill="#166a1e"/>
<rect x="760" y="180.4" width="1" height="16.4" fill="#e01414"/>
<rect x="762" y="163.7" width="1" height="10.2" fill="#e01414"/>
<rect x="763" y="167.4" width="1" height="12.1" fill="#166a1e"/>
<rect x="765" y="159.9" width="1" height="11.1" fill="#166a1e"/>
<rect x="766" y="158.0" width="1" height="11.0" fill="#166a1e"/>
<rect x="768" y="150.8" width="1" height="11.2" fill="#e01414"/>
<rect x="769" y="146.0" width="1" height="15.0" fill="#166a1e"/>
<rect x="771" y="149.7" width="1" height="12.3" fill="#e01414"/>
<rect x="772" y="148.0" width="1" height="9.0" fill="#166a1e"/>
<rect x="774" y="142.5" width="1" height="19.5" fill="#166a1e"/>
<rect x="775" y="139.0" width="1" height="14.9" fill="#166a1e"/>
<rect x="777" y="146.0" width="1" height="26.0" fill="#e01414"/>
<rect x="778" y="150.4" width="1" height="26.2" fill="#e01414"/>
<rect x="780" y="143.6" width="1" height="9.5" fill="#166a1e"/>
<rect x="781" y="147.3" width="1" height="9.2" fill="#e01414"/>
<rect x="783" y="122.2" width="1" height="18.5" fill="#166a1e"/>
<rect x="784" y="114.8" width="1" height="17.1" fill="#166a1e"/>
<rect x="786" y="121.5" width="1" height="12.0" fill="#e01414"/>
<rect x="787" y="114.8" width="1" height="17.3" fill="#166a1e"/>
<rect x="789" y="123.0" width="1" height="12.2" fill="#e01414"/>
<rect x="790" y="128.0" width="1" height="11.0" fill="#e01414"/>
<rect x="792" y="106.6" width="1" height="16.4" fill="#166a1e"/>
<rect x="793" y="103.0" width="1" height="14.5" fill="#e01414"/>
<rect x="795" y="74.6" width="1" height="28.4" fill="#166a1e"/>
<rect x="796" y="76.0" width="1" height="14.0" fill="#e01414"/>
<rect x="798" y="67.0" width="1" height="17.4" fill="#e01414"/>
<rect x="799" y="69.5" width="1" height="16.5" fill="#166a1e"/>
<rect x="801" y="43.0" width="1" height="21.5" fill="#166a1e"/>
<rect x="802" y="37.0" width="1" height="20.0" fill="#e01414"/>
<rect x="804" y="47.0" width="1" height="14.8" fill="#e01414"/>
<rect x="805" y="50.4" width="1" height="16.6" fill="#e01414"/>
<rect x="807" y="55.6" width="1" height="20.4" fill="#166a1e"/>
<rect x="808" y="53.0" width="1" height="17.2" fill="#e01414"/>
<rect x="810" y="64.0" width="1" height="23.5" fill="#e01414"/>
<rect x="811" y="57.0" width="1" height="26.9" fill="#e01414"/>
<rect x="813" y="67.0" width="1" height="24.8" fill="#e01414"/>
<rect x="814" y="123.0" width="1" height="37.8" fill="#e01414"/>
<rect x="816" y="136.2" width="1" height="34.8" fill="#e01414"/>
<rect x="817" y="132.0" width="1" height="31.4" fill="#166a1e"/>
<rect x="819" y="112.0" width="1" height="15.5" fill="#166a1e"/>
<rect x="820" y="114.4" width="1" height="14.6" fill="#e01414"/>
<rect x="822" y="132.0" width="1" height="14.0" fill="#e01414"/>
<rect x="823" y="127.8" width="1" height="14.4" fill="#166a1e"/>
<rect x="825" y="128.1" width="1" height="16.9" fill="#e01414"/>
<rect x="826" y="122.0" width="1" height="21.6" fill="#e01414"/>
<rect x="828" y="144.3" width="1" height="12.2" fill="#e01414"/>
<rect x="829" y="140.7" width="1" height="10.1" fill="#166a1e"/>
<rect x="831" y="152.4" width="1" height="18.6" fill="#e01414"/>
<rect x="832" y="150.8" width="1" height="13.1" fill="#166a1e"/>
<rect x="834" y="148.6" width="1" height="42.4" fill="#166a1e"/>
<rect x="835" y="145.0" width="1" height="42.2" fill="#166a1e"/>
<rect x="837" y="142.5" width="1" height="11.1" fill="#166a1e"/>
<rect x="838" y="137.8" width="1" height="10.5" fill="#e01414"/>
<rect x="840" y="128.3" width="1" height="16.7" fill="#166a1e"/>
<rect x="841" y="126.0" width="1" height="13.3" fill="#166a1e"/>
<rect x="843" y="106.0" width="1" height="21.8" fill="#166a1e"/>
<rect x="844" y="117.7" width="1" height="15.8" fill="#e01414"/>
<rect x="846" y="119.0" width="1" height="17.2" fill="#e01414"/>
<rect x="847" y="125.6" width="1" height="15.1" fill="#e01414"/>
<rect x="849" y="153.8" width="1" height="27.2" fill="#e01414"/>
<rect x="850" y="137.8" width="1" height="31.6" fill="#e01414"/>
<rect x="852" y="159.6" width="1" height="30.0" fill="#e01414"/>
<rect x="853" y="150.8" width="1" height="30.4" fill="#e01414"/>
<rect x="855" y="165.0" width="1" height="23.5" fill="#166a1e"/>
<rect x="856" y="174.7" width="1" height="17.8" fill="#e01414"/>
<rect x="858" y="160.8" width="1" height="14.2" fill="#166a1e"/>
<rect x="859" y="153.6" width="1" height="14.4" fill="#e01414"/>
<rect x="861" y="163.9" width="1" height="11.8" fill="#e01414"/>
<rect x="862" y="159.5" width="1" height="14.5" fill="#166a1e"/>
<rect x="864" y="172.6" width="1" height="12.4" fill="#e01414"/>
<rect x="865" y="166.6" width="1" height="16.3" fill="#e01414"/>
<rect x="867" y="163.6" width="1" height="15.9" fill="#e01414"/>
<rect x="868" y="158.0" width="1" height="20.1" fill="#e01414"/>
<rect x="870" y="142.0" width="1" height="24.8" fill="#166a1e"/>
<rect x="871" y="151.1" width="1" height="19.9" fill="#e01414"/>
<rect x="873" y="142.8" width="1" height="19.2" fill="#e01414"/>
<rect x="874" y="140.7" width="1" height="16.2" fill="#166a1e"/>
<rect x="876" y="149.0" width="1" height="12.3" fill="#e01414"/>
<rect x="877" y="151.3" width="1" height="10.7" fill="#e01414"/>
<rect x="879" y="149.0" width="1" height="16.0" fill="#e01414"/>
<rect x="880" y="139.0" width="1" height="30.5" fill="#166a1e"/>
<rect x="882" y="119.0" width="1" height="18.9" fill="#e01414"/>
<rect x="883" y="124.2" width="1" height="22.3" fill="#e01414"/>
<rect x="885" y="102.0" width="1" height="26.9" fill="#166a1e"/>
<rect x="886" y="104.0" width="1" height="26.6" fill="#e01414"/>
<rect x="888" y="105.1" width="1" height="16.9" fill="#e01414"/>
<rect x="889" y="99.0" width="1" height="15.1" fill="#166a1e"/>
<rect x="891" y="94.7" width="1" height="20.6" fill="#166a1e"/>
<rect x="892" y="96.8" width="1" height="28.2" fill="#e01414"/>
<rect x="894" y="66.0" width="1" height="31.5" fill="#e01414"/>
<rect x="895" y="79.6" width="1" height="25.2" fill="#e01414"/>
<rect x="897" y="87.5" width="1" height="13.2" fill="#e01414"/>
<rect x="898" y="89.7" width="1" height="17.9" fill="#166a1e"/>
<rect x="900" y="96.6" width="1" height="16.4" fill="#e01414"/>
<rect x="901" y="90.0" width="1" height="16.0" fill="#166a1e"/>
<rect x="903" y="96.0" width="1" height="20.0" fill="#e01414"/>
<rect x="904" y="73.0" width="1" height="24.6" fill="#166a1e"/>
<rect x="906" y="81.8" width="1" height="17.9" fill="#166a1e"/>
<rect x="907" y="84.7" width="1" height="22.9" fill="#e01414"/>
<rect x="909" y="93.0" width="1" height="14.6" fill="#e01414"/>
<rect x="910" y="119.0" width="1" height="23.0" fill="#166a1e"/>
<rect x="912" y="120.6" width="1" height="19.2" fill="#166a1e"/>
<rect x="913" y="129.1" width="1" height="19.9" fill="#e01414"/>
<rect x="915" y="150.8" width="1" height="23.0" fill="#e01414"/>
<rect x="916" y="160.8" width="1" height="36.0" fill="#e01414"/>
<rect x="918" y="178.0" width="1" height="35.7" fill="#e01414"/>
<rect x="919" y="192.3" width="1" height="30.3" fill="#e01414"/>
<rect x="921" y="199.6" width="1" height="31.4" fill="#e01414"/>
<rect x="922" y="214.0" width="1" height="34.5" fill="#166a1e"/>
<rect x="924" y="196.1" width="1" height="17.9" fill="#166a1e"/>
<rect x="925" y="186.7" width="1" height="19.3" fill="#166a1e"/>
<rect x="927" y="148.0" width="1" height="23.0" fill="#e01414"/>
<rect x="928" y="122.0" width="1" height="34.5" fill="#166a1e"/>
<rect x="930" y="124.0" width="1" height="16.7" fill="#166a1e"/>
<rect x="931" y="119.0" width="1" height="15.9" fill="#166a1e"/>
<rect x="933" y="106.0" width="1" height="21.4" fill="#166a1e"/>
<rect x="934" y="109.4" width="1" height="24.1" fill="#e01414"/>
<rect x="936" y="107.6" width="1" height="16.2" fill="#166a1e"/>
<rect x="937" y="113.1" width="1" height="11.9" fill="#166a1e"/>
<rect x="939" y="91.8" width="1" height="24.2" fill="#166a1e"/>
<rect x="940" y="99.0" width="1" height="15.8" fill="#e01414"/>
<rect x="942" y="110.5" width="1" height="27.4" fill="#e01414"/>
<rect x="943" y="118.1" width="1" height="26.9" fill="#166a1e"/>
<rect x="945" y="86.0" width="1" height="15.1" fill="#166a1e"/>
<rect x="946" y="90.3" width="1" height="11.7" fill="#e01414"/>
<rect x="948" y="81.8" width="1" height="11.3" fill="#166a1e"/>
<rect x="949" y="85.5" width="1" height="14.5" fill="#e01414"/>
<rect x="951" y="62.6" width="1" height="27.4" fill="#166a1e"/>
<rect x="952" y="51.6" width="1" height="33.9" fill="#166a1e"/>
<rect x="954" y="58.8" width="1" height="23.0" fill="#e01414"/>
<rect x="955" y="67.0" width="1" height="26.0" fill="#e01414"/>
<rect x="957" y="73.0" width="1" height="14.6" fill="#e01414"/>
<rect x="958" y="75.2" width="1" height="19.5" fill="#e01414"/>
<rect x="960" y="91.1" width="1" height="21.9" fill="#e01414"/>
<rect x="961" y="80.0" width="1" height="23.3" fill="#166a1e"/>
<rect x="963" y="102.0" width="1" height="17.0" fill="#e01414"/>
<rect x="964" y="132.0" width="1" height="24.5" fill="#e01414"/>
<rect x="966" y="143.6" width="1" height="29.8" fill="#e01414"/>
<rect x="967" y="157.2" width="1" height="22.3" fill="#e01414"/>
<rect x="969" y="148.7" width="1" height="33.3" fill="#e01414"/>
<rect x="970" y="145.0" width="1" height="29.5" fill="#e01414"/>
<rect x="972" y="189.2" width="1" height="20.5" fill="#e01414"/>
<rect x="973" y="179.5" width="1" height="18.7" fill="#166a1e"/>
<rect x="975" y="191.0" width="1" height="31.6" fill="#e01414"/>
<rect x="976" y="191.0" width="1" height="39.0" fill="#166a1e"/>
<rect x="978" y="183.8" width="1" height="26.9" fill="#166a1e"/>
<rect x="979" y="186.1" width="1" height="27.9" fill="#e01414"/>
<rect x="981" y="185.0" width="1" height="15.0" fill="#166a1e"/>
<rect x="982" y="186.4" width="1" height="16.1" fill="#166a1e"/>
<rect x="984" y="172.2" width="1" height="9.8" fill="#166a1e"/>
<rect x="985" y="166.6" width="1" height="11.9" fill="#166a1e"/>
<rect x="987" y="172.5" width="1" height="17.1" fill="#e01414"/>
<rect x="988" y="169.5" width="1" height="18.1" fill="#166a1e"/>
<rect x="990" y="156.5" width="1" height="25.1" fill="#166a1e"/>
<rect x="991" y="168.2" width="1" height="21.4" fill="#e01414"/>
<rect x="993" y="146.5" width="1" height="12.5" fill="#166a1e"/>
<rect x="994" y="146.5" width="1" height="28.5" fill="#166a1e"/>
<rect x="996" y="154.7" width="1" height="29.1" fill="#e01414"/>
<rect x="997" y="150.8" width="1" height="29.5" fill="#166a1e"/>
<rect x="999" y="154.5" width="1" height="48.0" fill="#166a1e"/>
<rect x="1000" y="149.0" width="1" height="42.5" fill="#166a1e"/>
<rect x="1002" y="93.0" width="1" height="29.3" fill="#e01414"/>
<rect x="1003" y="99.2" width="1" height="34.3" fill="#e01414"/>
<rect x="1005" y="105.7" width="1" height="22.1" fill="#166a1e"/>
<rect x="1006" y="100.0" width="1" height="20.0" fill="#166a1e"/>
<rect x="1008" y="103.0" width="1" height="19.2" fill="#e01414"/>
<rect x="1009" y="110.2" width="1" height="18.8" fill="#e01414"/>
<rect x="1011" y="99.0" width="1" height="17.0" fill="#166a1e"/>
<rect x="1012" y="94.7" width="1" height="16.0" fill="#166a1e"/>
<rect x="1014" y="71.7" width="1" height="30.7" fill="#166a1e"/>
<rect x="1015" y="80.8" width="1" height="25.2" fill="#166a1e"/>
<rect x="1017" y="55.9" width="1" height="28.7" fill="#166a1e"/>
<rect x="1018" y="47.0" width="1" height="26.0" fill="#e01414"/>
<rect x="1020" y="31.0" width="1" height="19.0" fill="#166a1e"/>
<rect x="1021" y="31.4" width="1" height="34.6" fill="#166a1e"/>
<rect x="1023" y="68.8" width="1" height="32.2" fill="#e01414"/>
<rect x="1024" y="81.1" width="1" height="30.9" fill="#e01414"/>
<rect x="1026" y="96.0" width="1" height="46.4" fill="#e01414"/>
<rect x="1027" y="107.6" width="1" height="46.0" fill="#e01414"/>
<rect x="1029" y="125.0" width="1" height="25.8" fill="#e01414"/>
<rect x="1030" y="136.0" width="1" height="22.0" fill="#e01414"/>
<rect x="1032" y="129.0" width="1" height="16.6" fill="#166a1e"/>
<rect x="1033" y="134.5" width="1" height="12.0" fill="#e01414"/>
<rect x="1035" y="130.6" width="1" height="11.9" fill="#e01414"/>
<rect x="1036" y="132.7" width="1" height="12.3" fill="#e01414"/>
<rect x="1038" y="112.0" width="1" height="23.9" fill="#e01414"/>
<rect x="1039" y="116.5" width="1" height="25.5" fill="#e01414"/>
<rect x="1041" y="81.8" width="1" height="31.2" fill="#166a1e"/>
<rect x="1042" y="67.0" width="1" height="32.0" fill="#166a1e"/>
<rect x="1044" y="60.0" width="1" height="18.4" fill="#e01414"/>
<rect x="1045" y="66.6" width="1" height="18.0" fill="#e01414"/>
<rect x="1047" y="61.6" width="1" height="17.8" fill="#166a1e"/>
<rect x="1048" y="69.1" width="1" height="18.4" fill="#166a1e"/>
<rect x="1050" y="54.0" width="1" height="13.0" fill="#166a1e"/>
<rect x="1051" y="50.0" width="1" height="15.8" fill="#166a1e"/>
<rect x="1053" y="43.0" width="1" height="15.8" fill="#166a1e"/>
<rect x="1054" y="41.5" width="1" height="23.0" fill="#e01414"/>
<rect x="1056" y="54.0" width="1" height="29.7" fill="#166a1e"/>
<rect x="1057" y="67.1" width="1" height="27.6" fill="#166a1e"/>
<rect x="1059" y="67.5" width="1" height="17.1" fill="#e01414"/>
<rect x="1060" y="66.0" width="1" height="12.4" fill="#e01414"/>
<rect x="1062" y="67.0" width="1" height="23.0" fill="#e01414"/>
<rect x="1063" y="102.0" width="1" height="28.6" fill="#e01414"/>
<rect x="1065" y="99.0" width="1" height="35.6" fill="#e01414"/>
<rect x="1066" y="103.6" width="1" height="37.1" fill="#e01414"/>
<rect x="1068" y="122.0" width="1" height="29.6" fill="#e01414"/>
<rect x="1069" y="130.1" width="1" height="24.9" fill="#e01414"/>
<rect x="1071" y="122.0" width="1" height="25.7" fill="#166a1e"/>
<rect x="1072" y="125.8" width="1" height="33.2" fill="#166a1e"/>
<rect x="1074" y="113.0" width="1" height="23.0" fill="#166a1e"/>
<rect x="1075" y="103.0" width="1" height="32.0" fill="#166a1e"/>
<rect x="1077" y="74.2" width="1" height="14.8" fill="#166a1e"/>
<rect x="1078" y="73.0" width="1" height="12.1" fill="#166a1e"/>
<rect x="1080" y="76.0" width="1" height="21.6" fill="#e01414"/>
<rect x="1081" y="70.0" width="1" height="21.0" fill="#166a1e"/>
<rect x="1083" y="40.0" width="1" height="23.6" fill="#e01414"/>
<rect x="1084" y="48.7" width="1" height="18.3" fill="#e01414"/>
<rect x="1086" y="48.7" width="1" height="38.8" fill="#e01414"/>
<rect x="1087" y="51.6" width="1" height="21.4" fill="#166a1e"/>
<rect x="1089" y="64.5" width="1" height="15.7" fill="#e01414"/>
<rect x="1090" y="68.5" width="1" height="17.5" fill="#e01414"/>
<rect x="1092" y="74.3" width="1" height="18.7" fill="#e01414"/>
<rect x="1093" y="67.0" width="1" height="19.6" fill="#166a1e"/>
<rect x="1095" y="66.0" width="1" height="33.0" fill="#e01414"/>
<rect x="1096" y="71.7" width="1" height="23.0" fill="#e01414"/>
<rect x="1098" y="83.0" width="1" height="27.5" fill="#166a1e"/>
<rect x="1099" y="73.0" width="1" height="33.0" fill="#166a1e"/>
<rect x="1101" y="91.8" width="1" height="24.3" fill="#e01414"/>
<rect x="1102" y="98.0" width="1" height="32.6" fill="#e01414"/>
<rect x="1104" y="153.6" width="1" height="37.4" fill="#e01414"/>
<rect x="1105" y="155.0" width="1" height="24.5" fill="#166a1e"/>
<rect x="1107" y="159.0" width="1" height="31.6" fill="#e01414"/>
<rect x="1108" y="162.2" width="1" height="34.6" fill="#e01414"/>
<rect x="1110" y="194.2" width="1" height="16.8" fill="#e01414"/>
<rect x="1111" y="186.7" width="1" height="19.2" fill="#166a1e"/>
<rect x="1113" y="204.6" width="1" height="18.0" fill="#e01414"/>
<rect x="1114" y="202.5" width="1" height="16.5" fill="#166a1e"/>
<rect x="1116" y="214.0" width="1" height="17.0" fill="#e01414"/>
<rect x="1117" y="228.0" width="1" height="22.0" fill="#166a1e"/>
<rect x="1119" y="194.0" width="1" height="28.9" fill="#166a1e"/>
<rect x="1120" y="201.3" width="1" height="24.2" fill="#e01414"/>
<rect x="1122" y="191.4" width="1" height="16.6" fill="#166a1e"/>
<rect x="1123" y="189.6" width="1" height="14.4" fill="#166a1e"/>
<rect x="1125" y="195.0" width="1" height="19.0" fill="#e01414"/>
<rect x="1126" y="189.6" width="1" height="23.1" fill="#166a1e"/>
<rect x="1128" y="195.6" width="1" height="12.4" fill="#e01414"/>
<rect x="1129" y="194.0" width="1" height="12.5" fill="#e01414"/>
<rect x="1131" y="173.8" width="1" height="11.7" fill="#166a1e"/>
<rect x="1132" y="175.4" width="1" height="12.6" fill="#166a1e"/>
<rect x="1134" y="181.5" width="1" height="15.3" fill="#e01414"/>
<rect x="1135" y="176.6" width="1" height="14.2" fill="#166a1e"/>
<rect x="1137" y="185.0" width="1" height="21.8" fill="#e01414"/>
<rect x="1138" y="185.0" width="1" height="26.0" fill="#e01414"/>
<rect x="1140" y="214.0" width="1" height="15.7" fill="#e01414"/>
<rect x="1141" y="221.7" width="1" height="13.9" fill="#e01414"/>
<rect x="1143" y="218.5" width="1" height="15.5" fill="#166a1e"/>
<rect x="1144" y="217.0" width="1" height="13.1" fill="#166a1e"/>
<rect x="1146" y="223.5" width="1" height="23.5" fill="#166a1e"/>
<rect x="1147" y="211.0" width="1" height="23.9" fill="#166a1e"/>
<rect x="1149" y="194.0" width="1" height="16.1" fill="#e01414"/>
<rect x="1150" y="198.7" width="1" height="15.3" fill="#e01414"/>
<rect x="1152" y="210.6" width="1" height="13.4" fill="#e01414"/>
<rect x="1153" y="202.5" width="1" height="19.8" fill="#166a1e"/>
<rect x="1155" y="182.0" width="1" height="26.0" fill="#166a1e"/>
<rect x="1156" y="168.0" width="1" height="18.7" fill="#166a1e"/>
<rect x="1158" y="164.1" width="1" height="20.9" fill="#166a1e"/>
<rect x="1159" y="162.0" width="1" height="18.8" fill="#166a1e"/>
<rect x="1161" y="186.7" width="1" height="10.1" fill="#166a1e"/>
<rect x="1162" y="169.5" width="1" height="21.5" fill="#166a1e"/>
<rect x="1164" y="172.0" width="1" height="12.6" fill="#166a1e"/>
<rect x="1165" y="178.1" width="1" height="11.5" fill="#e01414"/>
<rect x="1167" y="173.8" width="1" height="14.2" fill="#166a1e"/>
<rect x="1168" y="202.5" width="1" height="17.5" fill="#e01414"/>
<rect x="1170" y="207.0" width="1" height="30.8" fill="#e01414"/>
<rect x="1171" y="219.3" width="1" height="25.7" fill="#e01414"/>
<rect x="1173" y="245.0" width="1" height="22.5" fill="#e01414"/>
<rect x="1174" y="255.5" width="1" height="22.5" fill="#e01414"/>
<rect x="1176" y="261.5" width="1" height="27.6" fill="#e01414"/>
<rect x="1177" y="264.1" width="1" height="31.9" fill="#e01414"/>
<rect x="1179" y="276.5" width="1" height="30.0" fill="#166a1e"/>
<rect x="1180" y="252.5" width="1" height="21.0" fill="#e01414"/>
<rect x="1182" y="265.6" width="1" height="9.4" fill="#e01414"/>
<rect x="1183" y="260.0" width="1" height="10.2" fill="#166a1e"/>
<rect x="1185" y="261.5" width="1" height="15.0" fill="#166a1e"/>
<rect x="1186" y="279.5" width="1" height="24.0" fill="#e01414"/>
<rect x="1188" y="280.7" width="1" height="15.3" fill="#166a1e"/>
<rect x="1189" y="278.0" width="1" height="15.1" fill="#166a1e"/>
<rect x="1191" y="293.3" width="1" height="22.2" fill="#166a1e"/>
<rect x="1192" y="288.5" width="1" height="23.3" fill="#166a1e"/>
<rect x="1194" y="294.5" width="1" height="28.5" fill="#166a1e"/>
<rect x="1195" y="293.0" width="1" height="34.5" fill="#e01414"/>
<rect x="1197" y="302.0" width="1" height="34.5" fill="#166a1e"/>
<rect x="1198" y="304.2" width="1" height="36.8" fill="#e01414"/>
<rect x="1200" y="296.0" width="1" height="46.5" fill="#166a1e"/>
<rect x="1201" y="296.0" width="1" height="24.0" fill="#e01414"/>
<rect x="1203" y="253.4" width="1" height="45.6" fill="#e01414"/>
<rect x="1204" y="281.0" width="1" height="24.0" fill="#e01414"/>
<rect x="1206" y="285.5" width="1" height="13.9" fill="#166a1e"/>
<rect x="1207" y="287.2" width="1" height="16.3" fill="#e01414"/>
<rect x="1209" y="285.5" width="1" height="24.0" fill="#e01414"/>
<rect x="1210" y="317.0" width="1" height="13.5" fill="#e01414"/>
<rect x="1212" y="320.8" width="1" height="18.7" fill="#e01414"/>
<rect x="1213" y="318.5" width="1" height="17.0" fill="#166a1e"/>
<rect x="1215" y="312.5" width="1" height="13.5" fill="#e01414"/>
<rect x="1216" y="309.5" width="1" height="13.5" fill="#166a1e"/>
<rect x="1218" y="314.0" width="1" height="10.6" fill="#166a1e"/>
<rect x="1219" y="317.6" width="1" height="11.4" fill="#e01414"/>
<rect x="1221" y="317.7" width="1" height="33.8" fill="#e01414"/>
<rect x="1222" y="315.5" width="1" height="29.9" fill="#e01414"/>
<rect x="1224" y="324.0" width="1" height="9.5" fill="#e01414"/>
<rect x="1225" y="318.5" width="1" height="10.0" fill="#166a1e"/>
<rect x="1227" y="314.0" width="1" height="15.0" fill="#166a1e"/>
<rect x="1228" y="311.0" width="1" height="21.0" fill="#e01414"/>
<rect x="1230" y="309.7" width="1" height="20.8" fill="#e01414"/>
<rect x="1231" y="305.0" width="1" height="19.8" fill="#166a1e"/>
<rect x="1233" y="291.8" width="1" height="14.7" fill="#e01414"/>
<rect x="1234" y="285.5" width="1" height="17.8" fill="#e01414"/>
<rect x="1236" y="293.0" width="1" height="42.0" fill="#166a1e"/>
<rect x="1237" y="320.0" width="1" height="33.0" fill="#166a1e"/>
<rect x="1239" y="323.0" width="1" height="15.0" fill="#e01414"/>
<rect x="1240" y="329.0" width="1" height="21.0" fill="#166a1e"/>
<rect x="1242" y="331.1" width="1" height="8.4" fill="#166a1e"/>
<rect x="1243" y="326.0" width="1" height="10.5" fill="#166a1e"/>
<rect x="1245" y="329.0" width="1" height="18.0" fill="#e01414"/>
<rect x="1246" y="335.0" width="1" height="40.5" fill="#e01414"/>
<rect x="1248" y="356.0" width="1" height="21.7" fill="#e01414"/>
<rect x="1249" y="360.4" width="1" height="19.6" fill="#166a1e"/>
<rect x="1251" y="380.9" width="1" height="18.6" fill="#166a1e"/>
<rect x="1252" y="371.0" width="1" height="23.0" fill="#166a1e"/>
<rect x="1254" y="384.5" width="1" height="22.5" fill="#e01414"/>
<rect x="1255" y="387.5" width="1" height="27.0" fill="#166a1e"/>
<rect x="1257" y="399.0" width="1" height="17.0" fill="#e01414"/>
<rect x="1258" y="395.0" width="1" height="16.7" fill="#e01414"/>
<rect x="1260" y="384.5" width="1" height="16.5" fill="#166a1e"/>
<rect x="1261" y="384.5" width="1" height="25.5" fill="#166a1e"/>
<rect x="1263" y="399.4" width="1" height="19.6" fill="#e01414"/>
<rect x="1264" y="398.0" width="1" height="15.2" fill="#166a1e"/>
<rect x="1266" y="393.2" width="1" height="13.8" fill="#166a1e"/>
<rect x="1267" y="387.5" width="1" height="17.9" fill="#166a1e"/>
<rect x="1269" y="384.5" width="1" height="19.5" fill="#166a1e"/>
<rect x="1270" y="371.6" width="1" height="9.9" fill="#e01414"/>
</g>
<rect x="1272" y="372" width="2" height="1" fill="#444"/>
<!-- trend lines -->
<line x1="656" y1="218.6" x2="1297" y2="262" stroke="#4466c4" stroke-width="1" shape-rendering="crispEdges"/>
<line x1="5.5" y1="489.6" x2="1281" y2="279.2" stroke="#000" stroke-width="1" stroke-dasharray="5 5" shape-rendering="crispEdges"/>
<!-- annotations -->
<text class="serif" x="161" y="179.3" font-size="27.2" fill="#3464dc" textLength="238.3" lengthAdjust="spacingAndGlyphs">scattacolpending.com</text>
<text class="serif" x="264.3" y="506" font-size="25" fill="#000" textLength="776.5" lengthAdjust="spacing">non facile il retest ai 200 $ ma in quel caso la doppia resistenza offre chiaro short</text>
<!-- MACD histogram -->
<g fill="#0808dc" shape-rendering="crispEdges">
<rect x="6" y="682.3" width="1" height="5.4"/>
<rect x="7" y="682.3" width="1" height="5.5"/>
<rect x="9" y="682.3" width="1" height="5.5"/>
<rect x="10" y="682.3" width="1" height="5.6"/>
<rect x="12" y="682.3" width="1" height="5.6"/>
<rect x="13" y="682.3" width="1" height="5.7"/>
<rect x="15" y="682.3" width="1" height="5.7"/>
<rect x="16" y="682.3" width="1" height="5.3"/>
<rect x="18" y="682.3" width="1" height="5.0"/>
<rect x="19" y="682.3" width="1" height="4.6"/>
<rect x="21" y="682.3" width="1" height="4.2"/>
<rect x="22" y="682.3" width="1" height="3.8"/>
<rect x="24" y="682.3" width="1" height="2.8"/>
<rect x="25" y="682.3" width="1" height="1.5"/>
<rect x="27" y="681.8" width="1" height="1.4"/>
<rect x="28" y="681.8" width="1" height="1.4"/>
<rect x="30" y="681.8" width="1" height="1.4"/>
<rect x="31" y="681.0" width="1" height="1.3"/>
<rect x="33" y="680.6" width="1" height="1.7"/>
<rect x="34" y="680.1" width="1" height="2.2"/>
<rect x="36" y="679.6" width="1" height="2.7"/>
<rect x="37" y="679.1" width="1" height="3.2"/>
<rect x="39" y="678.6" width="1" height="3.7"/>
<rect x="40" y="677.9" width="1" height="4.4"/>
<rect x="42" y="677.3" width="1" height="5.0"/>
<rect x="43" y="676.7" width="1" height="5.6"/>
<rect x="45" y="676.1" width="1" height="6.2"/>
<rect x="46" y="675.5" width="1" height="6.8"/>
<rect x="48" y="674.8" width="1" height="7.5"/>
<rect x="49" y="674.2" width="1" height="8.1"/>
<rect x="51" y="673.6" width="1" height="8.7"/>
<rect x="52" y="672.5" width="1" height="9.8"/>
<rect x="54" y="671.4" width="1" height="10.9"/>
<rect x="55" y="670.3" width="1" height="12.0"/>
<rect x="57" y="669.3" width="1" height="13.0"/>
<rect x="58" y="668.2" width="1" height="14.1"/>
<rect x="60" y="667.1" width="1" height="15.2"/>
<rect x="61" y="666.0" width="1" height="16.3"/>
<rect x="63" y="666.4" width="1" height="15.9"/>
<rect x="64" y="666.7" width="1" height="15.6"/>
<rect x="66" y="667.1" width="1" height="15.2"/>
<rect x="67" y="667.4" width="1" height="14.9"/>
<rect x="69" y="667.8" width="1" height="14.5"/>
<rect x="70" y="668.1" width="1" height="14.2"/>
<rect x="72" y="668.5" width="1" height="13.8"/>
<rect x="73" y="668.9" width="1" height="13.4"/>
<rect x="75" y="669.3" width="1" height="13.0"/>
<rect x="76" y="669.7" width="1" height="12.6"/>
<rect x="78" y="670.1" width="1" height="12.2"/>
<rect x="79" y="670.5" width="1" height="11.8"/>
<rect x="81" y="671.0" width="1" height="11.3"/>
<rect x="82" y="671.4" width="1" height="10.9"/>
<rect x="84" y="671.9" width="1" height="10.4"/>
<rect x="85" y="672.3" width="1" height="10.0"/>
<rect x="87" y="672.8" width="1" height="9.5"/>
<rect x="88" y="673.2" width="1" height="9.1"/>
<rect x="90" y="673.8" width="1" height="8.5"/>
<rect x="91" y="674.6" width="1" height="7.7"/>
<rect x="93" y="675.4" width="1" height="6.9"/>
<rect x="94" y="676.2" width="1" height="6.1"/>
<rect x="96" y="677.0" width="1" height="5.3"/>
<rect x="97" y="677.8" width="1" height="4.5"/>
<rect x="99" y="678.6" width="1" height="3.7"/>
<rect x="100" y="679.4" width="1" height="2.9"/>
<rect x="102" y="680.2" width="1" height="2.1"/>
<rect x="103" y="680.8" width="1" height="1.5"/>
<rect x="105" y="681.2" width="1" height="1.1"/>
<rect x="106" y="681.8" width="1" height="1.4"/>
<rect x="108" y="681.8" width="1" height="1.4"/>
<rect x="109" y="681.8" width="1" height="1.4"/>
<rect x="111" y="681.8" width="1" height="1.4"/>
<rect x="112" y="682.3" width="1" height="1.3"/>
<rect x="114" y="682.3" width="1" height="2.0"/>
<rect x="115" y="682.3" width="1" height="2.6"/>
<rect x="117" y="682.3" width="1" height="3.3"/>
<rect x="118" y="682.3" width="1" height="3.9"/>
<rect x="120" y="682.3" width="1" height="4.6"/>
<rect x="121" y="682.3" width="1" height="5.2"/>
<rect x="123" y="682.3" width="1" height="5.9"/>
<rect x="124" y="682.3" width="1" height="6.5"/>
<rect x="126" y="682.3" width="1" height="7.1"/>
<rect x="127" y="682.3" width="1" height="7.8"/>
<rect x="129" y="682.3" width="1" height="8.1"/>
<rect x="130" y="682.3" width="1" height="8.2"/>
<rect x="132" y="682.3" width="1" height="8.3"/>
<rect x="133" y="682.3" width="1" height="8.5"/>
<rect x="135" y="682.3" width="1" height="8.6"/>
<rect x="136" y="682.3" width="1" height="8.7"/>
<rect x="138" y="682.3" width="1" height="8.8"/>
<rect x="139" y="682.3" width="1" height="9.0"/>
<rect x="141" y="682.3" width="1" height="9.1"/>
<rect x="142" y="682.3" width="1" height="9.2"/>
<rect x="144" y="682.3" width="1" height="9.3"/>
<rect x="145" y="682.3" width="1" height="9.4"/>
<rect x="147" y="682.3" width="1" height="9.5"/>
<rect x="148" y="682.3" width="1" height="9.5"/>
<rect x="150" y="682.3" width="1" height="9.6"/>
<rect x="151" y="682.3" width="1" height="9.7"/>
<rect x="153" y="682.3" width="1" height="9.7"/>
<rect x="154" y="682.3" width="1" height="9.8"/>
<rect x="156" y="682.3" width="1" height="9.9"/>
<rect x="157" y="682.3" width="1" height="9.9"/>
<rect x="159" y="682.3" width="1" height="9.9"/>
<rect x="160" y="682.3" width="1" height="9.0"/>
<rect x="162" y="682.3" width="1" height="8.1"/>
<rect x="163" y="682.3" width="1" height="7.2"/>
<rect x="165" y="682.3" width="1" height="6.3"/>
<rect x="166" y="682.3" width="1" height="5.0"/>
<rect x="168" y="682.3" width="1" height="3.0"/>
<rect x="169" y="682.3" width="1" height="1.5"/>
<rect x="171" y="681.8" width="1" height="1.4"/>
<rect x="172" y="681.8" width="1" height="1.4"/>
<rect x="174" y="681.8" width="1" height="1.4"/>
<rect x="175" y="681.2" width="1" height="1.0"/>
<rect x="177" y="680.5" width="1" height="1.8"/>
<rect x="178" y="679.8" width="1" height="2.5"/>
<rect x="180" y="679.2" width="1" height="3.1"/>
<rect x="181" y="678.7" width="1" height="3.6"/>
<rect x="183" y="678.1" width="1" height="4.2"/>
<rect x="184" y="677.5" width="1" height="4.8"/>
<rect x="186" y="677.4" width="1" height="4.9"/>
<rect x="187" y="677.3" width="1" height="5.0"/>
<rect x="189" y="677.2" width="1" height="5.1"/>
<rect x="190" y="677.1" width="1" height="5.2"/>
<rect x="192" y="677.0" width="1" height="5.3"/>
<rect x="193" y="676.8" width="1" height="5.5"/>
<rect x="195" y="676.7" width="1" height="5.6"/>
<rect x="196" y="676.6" width="1" height="5.7"/>
<rect x="198" y="676.5" width="1" height="5.8"/>
<rect x="199" y="676.4" width="1" height="5.9"/>
<rect x="201" y="676.3" width="1" height="6.0"/>
<rect x="202" y="676.2" width="1" height="6.1"/>
<rect x="204" y="676.5" width="1" height="5.8"/>
<rect x="205" y="676.7" width="1" height="5.6"/>
<rect x="207" y="677.0" width="1" height="5.3"/>
<rect x="208" y="677.2" width="1" height="5.1"/>
<rect x="210" y="677.5" width="1" height="4.8"/>
<rect x="211" y="677.7" width="1" height="4.6"/>
<rect x="213" y="678.0" width="1" height="4.3"/>
<rect x="214" y="678.2" width="1" height="4.1"/>
<rect x="216" y="678.5" width="1" height="3.8"/>
<rect x="217" y="678.7" width="1" height="3.6"/>
<rect x="219" y="678.9" width="1" height="3.4"/>
<rect x="220" y="679.1" width="1" height="3.2"/>
<rect x="222" y="679.2" width="1" height="3.1"/>
<rect x="223" y="679.3" width="1" height="3.0"/>
<rect x="225" y="679.5" width="1" height="2.8"/>
<rect x="226" y="679.6" width="1" height="2.7"/>
<rect x="228" y="679.8" width="1" height="2.5"/>
<rect x="229" y="679.9" width="1" height="2.4"/>
<rect x="231" y="680.1" width="1" height="2.2"/>
<rect x="232" y="680.4" width="1" height="1.9"/>
<rect x="234" y="680.7" width="1" height="1.6"/>
<rect x="235" y="681.1" width="1" height="1.2"/>
<rect x="237" y="681.8" width="1" height="1.4"/>
<rect x="238" y="681.8" width="1" height="1.4"/>
<rect x="240" y="681.8" width="1" height="1.4"/>
<rect x="241" y="681.8" width="1" height="1.4"/>
<rect x="243" y="681.8" width="1" height="1.4"/>
<rect x="244" y="682.3" width="1" height="1.7"/>
<rect x="246" y="682.3" width="1" height="2.5"/>
<rect x="247" y="682.3" width="1" height="3.4"/>
<rect x="249" y="682.3" width="1" height="4.1"/>
<rect x="250" y="682.3" width="1" height="4.6"/>
<rect x="252" y="682.3" width="1" height="5.2"/>
<rect x="253" y="682.3" width="1" height="5.8"/>
<rect x="255" y="682.3" width="1" height="6.3"/>
<rect x="256" y="682.3" width="1" height="6.5"/>
<rect x="258" y="682.3" width="1" height="5.9"/>
<rect x="259" y="682.3" width="1" height="5.4"/>
<rect x="261" y="682.3" width="1" height="4.8"/>
<rect x="262" y="682.3" width="1" height="4.2"/>
<rect x="264" y="682.3" width="1" height="3.7"/>
<rect x="265" y="682.3" width="1" height="3.1"/>
<rect x="267" y="682.3" width="1" height="2.5"/>
<rect x="268" y="682.3" width="1" height="2.0"/>
<rect x="270" y="682.3" width="1" height="1.5"/>
<rect x="271" y="682.3" width="1" height="1.0"/>
<rect x="273" y="681.8" width="1" height="1.4"/>
<rect x="274" y="681.8" width="1" height="1.4"/>
<rect x="276" y="681.8" width="1" height="1.4"/>
<rect x="277" y="682.3" width="1" height="1.1"/>
<rect x="279" y="682.3" width="1" height="1.5"/>
<rect x="280" y="682.3" width="1" height="1.8"/>
<rect x="282" y="682.3" width="1" height="2.2"/>
<rect x="283" y="682.3" width="1" height="2.5"/>
<rect x="285" y="682.3" width="1" height="2.8"/>
<rect x="286" y="682.3" width="1" height="3.1"/>
<rect x="288" y="682.3" width="1" height="3.3"/>
<rect x="289" y="682.3" width="1" height="3.6"/>
<rect x="291" y="682.3" width="1" height="3.9"/>
<rect x="292" y="682.3" width="1" height="4.1"/>
<rect x="294" y="682.3" width="1" height="4.1"/>
<rect x="295" y="682.3" width="1" height="4.1"/>
<rect x="297" y="682.3" width="1" height="4.1"/>
<rect x="298" y="682.3" width="1" height="4.1"/>
<rect x="300" y="682.3" width="1" height="4.1"/>
<rect x="301" y="682.3" width="1" height="4.1"/>
<rect x="303" y="682.3" width="1" height="4.1"/>
<rect x="304" y="682.3" width="1" height="4.1"/>
<rect x="306" y="682.3" width="1" height="4.0"/>
<rect x="307" y="682.3" width="1" height="3.8"/>
<rect x="309" y="682.3" width="1" height="3.6"/>
<rect x="310" y="682.3" width="1" height="3.4"/>
<rect x="312" y="682.3" width="1" height="3.2"/>
<rect x="313" y="682.3" width="1" height="3.0"/>
<rect x="315" y="682.3" width="1" height="2.8"/>
<rect x="316" y="682.3" width="1" height="2.5"/>
<rect x="318" y="682.3" width="1" height="2.3"/>
<rect x="319" y="682.3" width="1" height="2.1"/>
<rect x="321" y="682.3" width="1" height="1.9"/>
<rect x="322" y="682.3" width="1" height="1.7"/>
<rect x="324" y="682.3" width="1" height="1.6"/>
<rect x="325" y="682.3" width="1" height="1.4"/>
<rect x="327" y="682.3" width="1" height="1.3"/>
<rect x="328" y="682.3" width="1" height="1.1"/>
<rect x="330" y="681.8" width="1" height="1.4"/>
<rect x="331" y="681.8" width="1" height="1.4"/>
<rect x="333" y="681.8" width="1" height="1.4"/>
<rect x="334" y="681.8" width="1" height="1.4"/>
<rect x="336" y="681.8" width="1" height="1.4"/>
<rect x="337" y="681.8" width="1" height="1.4"/>
<rect x="339" y="681.8" width="1" height="1.4"/>
<rect x="340" y="681.8" width="1" height="1.4"/>
<rect x="342" y="681.8" width="1" height="1.4"/>
<rect x="343" y="681.8" width="1" height="1.4"/>
<rect x="345" y="681.8" width="1" height="1.4"/>
<rect x="346" y="681.8" width="1" height="1.4"/>
<rect x="348" y="681.3" width="1" height="1.0"/>
<rect x="349" y="680.9" width="1" height="1.4"/>
<rect x="351" y="680.5" width="1" height="1.8"/>
<rect x="352" y="680.2" width="1" height="2.1"/>
<rect x="354" y="679.8" width="1" height="2.5"/>
<rect x="355" y="679.4" width="1" height="2.9"/>
<rect x="357" y="679.0" width="1" height="3.3"/>
<rect x="358" y="678.8" width="1" height="3.5"/>
<rect x="360" y="678.6" width="1" height="3.7"/>
<rect x="361" y="678.5" width="1" height="3.8"/>
<rect x="363" y="678.4" width="1" height="3.9"/>
<rect x="364" y="678.3" width="1" height="4.0"/>
<rect x="366" y="678.2" width="1" height="4.1"/>
<rect x="367" y="678.1" width="1" height="4.2"/>
<rect x="369" y="677.9" width="1" height="4.4"/>
<rect x="370" y="677.8" width="1" height="4.5"/>
<rect x="372" y="677.7" width="1" height="4.6"/>
<rect x="373" y="677.6" width="1" height="4.7"/>
<rect x="375" y="677.5" width="1" height="4.8"/>
<rect x="376" y="677.4" width="1" height="4.9"/>
<rect x="378" y="677.2" width="1" height="5.1"/>
<rect x="379" y="677.1" width="1" height="5.2"/>
<rect x="381" y="677.0" width="1" height="5.3"/>
<rect x="382" y="677.0" width="1" height="5.3"/>
<rect x="384" y="677.1" width="1" height="5.2"/>
<rect x="385" y="677.1" width="1" height="5.2"/>
<rect x="387" y="677.2" width="1" height="5.1"/>
<rect x="388" y="677.2" width="1" height="5.1"/>
<rect x="390" y="677.3" width="1" height="5.0"/>
<rect x="391" y="677.3" width="1" height="5.0"/>
<rect x="393" y="677.4" width="1" height="4.9"/>
<rect x="394" y="677.4" width="1" height="4.9"/>
<rect x="396" y="677.5" width="1" height="4.8"/>
<rect x="397" y="677.8" width="1" height="4.5"/>
<rect x="399" y="678.4" width="1" height="3.9"/>
<rect x="400" y="678.9" width="1" height="3.4"/>
<rect x="402" y="679.5" width="1" height="2.8"/>
<rect x="403" y="680.0" width="1" height="2.3"/>
<rect x="405" y="680.6" width="1" height="1.7"/>
<rect x="406" y="681.1" width="1" height="1.2"/>
<rect x="408" y="681.8" width="1" height="1.4"/>
<rect x="409" y="681.8" width="1" height="1.4"/>
<rect x="411" y="681.8" width="1" height="1.4"/>
<rect x="412" y="681.8" width="1" height="1.4"/>
<rect x="414" y="681.8" width="1" height="1.4"/>
<rect x="415" y="681.8" width="1" height="1.4"/>
<rect x="417" y="682.3" width="1" height="1.1"/>
<rect x="418" y="682.3" width="1" height="1.4"/>
<rect x="420" y="682.3" width="1" height="1.7"/>
<rect x="421" y="682.3" width="1" height="1.8"/>
<rect x="423" y="682.3" width="1" height="1.8"/>
<rect x="424" y="682.3" width="1" height="1.9"/>
<rect x="426" y="682.3" width="1" height="2.0"/>
<rect x="427" y="682.3" width="1" height="2.1"/>
<rect x="429" y="682.3" width="1" height="2.1"/>
<rect x="430" y="682.3" width="1" height="2.2"/>
<rect x="432" y="682.3" width="1" height="2.3"/>
<rect x="433" y="682.3" width="1" height="2.4"/>
<rect x="435" y="682.3" width="1" height="2.5"/>
<rect x="436" y="682.3" width="1" height="2.7"/>
<rect x="438" y="682.3" width="1" height="2.8"/>
<rect x="439" y="682.3" width="1" height="2.9"/>
<rect x="441" y="682.3" width="1" height="3.0"/>
<rect x="442" y="682.3" width="1" height="3.2"/>
<rect x="444" y="682.3" width="1" height="3.3"/>
<rect x="445" y="682.3" width="1" height="3.4"/>
<rect x="447" y="682.3" width="1" height="3.6"/>
<rect x="448" y="682.3" width="1" height="3.7"/>
<rect x="450" y="682.3" width="1" height="3.8"/>
<rect x="451" y="682.3" width="1" height="4.0"/>
<rect x="453" y="682.3" width="1" height="4.1"/>
<rect x="454" y="682.3" width="1" height="4.0"/>
<rect x="456" y="682.3" width="1" height="3.8"/>
<rect x="457" y="682.3" width="1" height="3.7"/>
<rect x="459" y="682.3" width="1" height="3.5"/>
<rect x="460" y="682.3" width="1" height="3.4"/>
<rect x="462" y="682.3" width="1" height="3.3"/>
<rect x="463" y="682.3" width="1" height="3.1"/>
<rect x="465" y="682.3" width="1" height="3.0"/>
<rect x="466" y="682.3" width="1" height="2.8"/>
<rect x="468" y="682.3" width="1" height="2.7"/>
<rect x="469" y="682.3" width="1" height="2.5"/>
<rect x="471" y="682.3" width="1" height="2.3"/>
<rect x="472" y="682.3" width="1" height="2.1"/>
<rect x="474" y="682.3" width="1" height="1.9"/>
<rect x="475" y="682.3" width="1" height="1.7"/>
<rect x="477" y="682.3" width="1" height="1.6"/>
<rect x="478" y="682.3" width="1" height="1.4"/>
<rect x="480" y="682.3" width="1" height="1.2"/>
<rect x="481" y="681.8" width="1" height="1.4"/>
<rect x="483" y="681.8" width="1" height="1.4"/>
<rect x="484" y="681.8" width="1" height="1.4"/>
<rect x="486" y="681.8" width="1" height="1.4"/>
<rect x="487" y="681.8" width="1" height="1.4"/>
<rect x="489" y="682.3" width="1" height="1.1"/>
<rect x="490" y="682.3" width="1" height="1.2"/>
<rect x="492" y="682.3" width="1" height="1.3"/>
<rect x="493" y="682.3" width="1" height="1.5"/>
<rect x="495" y="682.3" width="1" height="1.6"/>
<rect x="496" y="682.3" width="1" height="1.7"/>
<rect x="498" y="682.3" width="1" height="1.4"/>
<rect x="499" y="682.3" width="1" height="1.1"/>
<rect x="501" y="681.8" width="1" height="1.4"/>
<rect x="502" y="681.8" width="1" height="1.4"/>
<rect x="504" y="681.8" width="1" height="1.4"/>
<rect x="505" y="681.8" width="1" height="1.4"/>
<rect x="507" y="681.8" width="1" height="1.4"/>
<rect x="508" y="680.8" width="1" height="1.5"/>
<rect x="510" y="680.2" width="1" height="2.0"/>
<rect x="511" y="679.7" width="1" height="2.6"/>
<rect x="513" y="679.6" width="1" height="2.7"/>
<rect x="514" y="679.7" width="1" height="2.6"/>
<rect x="516" y="679.8" width="1" height="2.5"/>
<rect x="517" y="679.9" width="1" height="2.4"/>
<rect x="519" y="680.1" width="1" height="2.2"/>
<rect x="520" y="680.2" width="1" height="2.1"/>
<rect x="522" y="680.3" width="1" height="2.0"/>
<rect x="523" y="680.4" width="1" height="1.9"/>
<rect x="525" y="680.5" width="1" height="1.8"/>
<rect x="526" y="680.6" width="1" height="1.7"/>
<rect x="528" y="680.8" width="1" height="1.5"/>
<rect x="529" y="680.9" width="1" height="1.4"/>
<rect x="531" y="681.0" width="1" height="1.3"/>
<rect x="532" y="681.1" width="1" height="1.2"/>
<rect x="534" y="681.2" width="1" height="1.1"/>
<rect x="535" y="681.8" width="1" height="1.4"/>
<rect x="537" y="681.8" width="1" height="1.4"/>
<rect x="538" y="681.3" width="1" height="1.0"/>
<rect x="540" y="681.0" width="1" height="1.3"/>
<rect x="541" y="680.6" width="1" height="1.7"/>
<rect x="543" y="680.3" width="1" height="2.0"/>
<rect x="544" y="680.0" width="1" height="2.3"/>
<rect x="546" y="679.7" width="1" height="2.6"/>
<rect x="547" y="679.3" width="1" height="3.0"/>
<rect x="549" y="679.0" width="1" height="3.3"/>
<rect x="550" y="679.0" width="1" height="3.3"/>
<rect x="552" y="679.7" width="1" height="2.6"/>
<rect x="553" y="680.4" width="1" height="1.9"/>
<rect x="555" y="681.1" width="1" height="1.2"/>
<rect x="556" y="681.8" width="1" height="1.4"/>
<rect x="558" y="681.8" width="1" height="1.4"/>
<rect x="559" y="681.8" width="1" height="1.4"/>
<rect x="561" y="681.8" width="1" height="1.4"/>
<rect x="562" y="682.3" width="1" height="1.2"/>
<rect x="564" y="682.3" width="1" height="1.5"/>
<rect x="565" y="682.3" width="1" height="1.7"/>
<rect x="567" y="682.3" width="1" height="1.8"/>
<rect x="568" y="682.3" width="1" height="2.0"/>
<rect x="570" y="682.3" width="1" height="2.1"/>
<rect x="571" y="682.3" width="1" height="2.2"/>
<rect x="573" y="682.3" width="1" height="2.3"/>
<rect x="574" y="682.3" width="1" height="2.3"/>
<rect x="576" y="682.3" width="1" height="2.3"/>
<rect x="577" y="682.3" width="1" height="2.3"/>
<rect x="579" y="682.3" width="1" height="2.3"/>
<rect x="580" y="682.3" width="1" height="2.3"/>
<rect x="582" y="682.3" width="1" height="2.3"/>
<rect x="583" y="682.3" width="1" height="2.3"/>
<rect x="585" y="682.3" width="1" height="2.3"/>
<rect x="586" y="682.3" width="1" height="2.3"/>
<rect x="588" y="682.3" width="1" height="2.3"/>
<rect x="589" y="682.3" width="1" height="2.3"/>
<rect x="591" y="682.3" width="1" height="2.3"/>
<rect x="592" y="682.3" width="1" height="2.2"/>
<rect x="594" y="682.3" width="1" height="2.0"/>
<rect x="595" y="682.3" width="1" height="1.9"/>
<rect x="597" y="682.3" width="1" height="1.8"/>
<rect x="598" y="682.3" width="1" height="1.6"/>
<rect x="600" y="682.3" width="1" height="1.5"/>
<rect x="601" y="682.3" width="1" height="1.4"/>
<rect x="603" y="682.3" width="1" height="1.2"/>
<rect x="604" y="682.3" width="1" height="1.1"/>
<rect x="606" y="681.8" width="1" height="1.4"/>
<rect x="607" y="681.8" width="1" height="1.4"/>
<rect x="609" y="681.8" width="1" height="1.4"/>
<rect x="610" y="681.8" width="1" height="1.4"/>
<rect x="612" y="681.8" width="1" height="1.4"/>
<rect x="613" y="681.8" width="1" height="1.4"/>
<rect x="615" y="681.8" width="1" height="1.4"/>
<rect x="616" y="681.8" width="1" height="1.4"/>
<rect x="618" y="680.9" width="1" height="1.4"/>
<rect x="619" y="680.5" width="1" height="1.8"/>
<rect x="621" y="680.5" width="1" height="1.8"/>
<rect x="622" y="680.4" width="1" height="1.9"/>
<rect x="624" y="680.4" width="1" height="1.9"/>
<rect x="625" y="680.3" width="1" height="2.0"/>
<rect x="627" y="680.3" width="1" height="2.0"/>
<rect x="628" y="680.2" width="1" height="2.0"/>
<rect x="630" y="680.2" width="1" height="2.1"/>
<rect x="631" y="680.2" width="1" height="2.1"/>
<rect x="633" y="680.1" width="1" height="2.2"/>
<rect x="634" y="680.1" width="1" height="2.2"/>
<rect x="636" y="680.0" width="1" height="2.3"/>
<rect x="637" y="680.0" width="1" height="2.3"/>
<rect x="639" y="680.0" width="1" height="2.3"/>
<rect x="640" y="679.9" width="1" height="2.4"/>
<rect x="642" y="679.9" width="1" height="2.4"/>
<rect x="643" y="679.8" width="1" height="2.5"/>
<rect x="645" y="679.8" width="1" height="2.5"/>
<rect x="646" y="679.7" width="1" height="2.6"/>
<rect x="648" y="679.7" width="1" height="2.6"/>
<rect x="649" y="679.6" width="1" height="2.7"/>
<rect x="651" y="679.6" width="1" height="2.7"/>
<rect x="652" y="679.5" width="1" height="2.8"/>
<rect x="654" y="679.8" width="1" height="2.5"/>
<rect x="655" y="680.2" width="1" height="2.0"/>
<rect x="657" y="680.7" width="1" height="1.6"/>
<rect x="658" y="681.1" width="1" height="1.2"/>
<rect x="660" y="681.8" width="1" height="1.4"/>
<rect x="661" y="681.8" width="1" height="1.4"/>
<rect x="663" y="681.8" width="1" height="1.4"/>
<rect x="664" y="682.3" width="1" height="1.3"/>
<rect x="666" y="682.3" width="1" height="1.6"/>
<rect x="667" y="682.3" width="1" height="1.9"/>
<rect x="669" y="682.3" width="1" height="2.2"/>
<rect x="670" y="682.3" width="1" height="2.5"/>
<rect x="672" y="682.3" width="1" height="2.8"/>
<rect x="673" y="682.3" width="1" height="3.1"/>
<rect x="675" y="682.3" width="1" height="3.4"/>
<rect x="676" y="682.3" width="1" height="3.2"/>
<rect x="678" y="682.3" width="1" height="3.1"/>
<rect x="679" y="682.3" width="1" height="2.9"/>
<rect x="681" y="682.3" width="1" height="2.8"/>
<rect x="682" y="682.3" width="1" height="2.6"/>
<rect x="684" y="682.3" width="1" height="2.4"/>
<rect x="685" y="682.3" width="1" height="2.3"/>
<rect x="687" y="682.3" width="1" height="2.1"/>
<rect x="688" y="682.3" width="1" height="1.9"/>
<rect x="690" y="682.3" width="1" height="1.8"/>
<rect x="691" y="682.3" width="1" height="1.6"/>
<rect x="693" y="682.3" width="1" height="1.5"/>
<rect x="694" y="682.3" width="1" height="1.3"/>
<rect x="696" y="682.3" width="1" height="1.1"/>
<rect x="697" y="681.8" width="1" height="1.4"/>
<rect x="699" y="681.8" width="1" height="1.4"/>
<rect x="700" y="681.8" width="1" height="1.4"/>
<rect x="702" y="681.8" width="1" height="1.4"/>
<rect x="703" y="681.8" width="1" height="1.4"/>
<rect x="705" y="681.8" width="1" height="1.4"/>
<rect x="706" y="681.1" width="1" height="1.2"/>
<rect x="708" y="680.6" width="1" height="1.7"/>
<rect x="709" y="680.1" width="1" height="2.2"/>
<rect x="711" y="679.7" width="1" height="2.6"/>
<rect x="712" y="679.2" width="1" height="3.1"/>
<rect x="714" y="678.6" width="1" height="3.7"/>
<rect x="715" y="677.4" width="1" height="4.9"/>
<rect x="717" y="676.1" width="1" height="6.2"/>
<rect x="718" y="674.9" width="1" height="7.4"/>
<rect x="720" y="673.6" width="1" height="8.7"/>
<rect x="721" y="672.4" width="1" height="9.9"/>
<rect x="723" y="672.0" width="1" height="10.3"/>
<rect x="724" y="671.7" width="1" height="10.6"/>
<rect x="726" y="671.3" width="1" height="11.0"/>
<rect x="727" y="671.0" width="1" height="11.3"/>
<rect x="729" y="670.6" width="1" height="11.7"/>
<rect x="730" y="671.4" width="1" height="10.9"/>
<rect x="732" y="672.3" width="1" height="10.0"/>
<rect x="733" y="673.1" width="1" height="9.2"/>
<rect x="735" y="673.9" width="1" height="8.4"/>
<rect x="736" y="674.8" width="1" height="7.5"/>
<rect x="738" y="675.3" width="1" height="7.0"/>
<rect x="739" y="675.8" width="1" height="6.5"/>
<rect x="741" y="676.2" width="1" height="6.1"/>
<rect x="742" y="676.7" width="1" height="5.6"/>
<rect x="744" y="677.1" width="1" height="5.2"/>
<rect x="745" y="677.6" width="1" height="4.7"/>
<rect x="747" y="678.0" width="1" height="4.3"/>
<rect x="748" y="678.4" width="1" height="3.9"/>
<rect x="750" y="678.8" width="1" height="3.5"/>
<rect x="751" y="679.2" width="1" height="3.1"/>
<rect x="753" y="679.5" width="1" height="2.8"/>
<rect x="754" y="679.9" width="1" height="2.4"/>
<rect x="756" y="679.9" width="1" height="2.4"/>
<rect x="757" y="679.7" width="1" height="2.6"/>
<rect x="759" y="679.6" width="1" height="2.7"/>
<rect x="760" y="679.5" width="1" height="2.8"/>
<rect x="762" y="679.3" width="1" height="3.0"/>
<rect x="763" y="679.2" width="1" height="3.1"/>
<rect x="765" y="679.0" width="1" height="3.3"/>
<rect x="766" y="678.9" width="1" height="3.4"/>
<rect x="768" y="678.8" width="1" height="3.5"/>
<rect x="769" y="678.9" width="1" height="3.4"/>
<rect x="771" y="679.0" width="1" height="3.3"/>
<rect x="772" y="679.0" width="1" height="3.3"/>
<rect x="774" y="679.1" width="1" height="3.2"/>
<rect x="775" y="679.2" width="1" height="3.1"/>
<rect x="777" y="679.2" width="1" height="3.1"/>
<rect x="778" y="679.3" width="1" height="3.0"/>
<rect x="780" y="679.4" width="1" height="2.9"/>
<rect x="781" y="679.4" width="1" height="2.9"/>
<rect x="783" y="679.5" width="1" height="2.8"/>
<rect x="784" y="679.3" width="1" height="3.0"/>
<rect x="786" y="679.0" width="1" height="3.3"/>
<rect x="787" y="678.8" width="1" height="3.5"/>
<rect x="789" y="678.6" width="1" height="3.7"/>
<rect x="790" y="678.3" width="1" height="4.0"/>
<rect x="792" y="678.1" width="1" height="4.2"/>
<rect x="793" y="677.9" width="1" height="4.4"/>
<rect x="795" y="677.6" width="1" height="4.7"/>
<rect x="796" y="677.3" width="1" height="5.0"/>
<rect x="798" y="676.8" width="1" height="5.5"/>
<rect x="799" y="676.3" width="1" height="6.0"/>
<rect x="801" y="675.8" width="1" height="6.5"/>
<rect x="802" y="675.3" width="1" height="7.0"/>
<rect x="804" y="675.2" width="1" height="7.1"/>
<rect x="805" y="675.8" width="1" height="6.5"/>
<rect x="807" y="676.4" width="1" height="5.9"/>
<rect x="808" y="677.0" width="1" height="5.3"/>
<rect x="810" y="677.6" width="1" height="4.7"/>
<rect x="811" y="678.6" width="1" height="3.7"/>
<rect x="813" y="680.2" width="1" height="2.0"/>
<rect x="814" y="681.8" width="1" height="1.4"/>
<rect x="816" y="681.8" width="1" height="1.4"/>
<rect x="817" y="682.3" width="1" height="1.7"/>
<rect x="819" y="682.3" width="1" height="2.6"/>
<rect x="820" y="682.3" width="1" height="3.6"/>
<rect x="822" y="682.3" width="1" height="4.3"/>
<rect x="823" y="682.3" width="1" height="4.7"/>
<rect x="825" y="682.3" width="1" height="5.1"/>
<rect x="826" y="682.3" width="1" height="5.5"/>
<rect x="828" y="682.3" width="1" height="5.9"/>
<rect x="829" y="682.3" width="1" height="6.3"/>
<rect x="831" y="682.3" width="1" height="6.7"/>
<rect x="832" y="682.3" width="1" height="7.1"/>
<rect x="834" y="682.3" width="1" height="7.5"/>
<rect x="835" y="682.3" width="1" height="6.9"/>
<rect x="837" y="682.3" width="1" height="6.3"/>
<rect x="838" y="682.3" width="1" height="5.7"/>
<rect x="840" y="682.3" width="1" height="5.2"/>
<rect x="841" y="682.3" width="1" height="4.6"/>
<rect x="843" y="682.3" width="1" height="4.0"/>
<rect x="844" y="682.3" width="1" height="3.4"/>
<rect x="846" y="682.3" width="1" height="3.9"/>
<rect x="847" y="682.3" width="1" height="4.4"/>
<rect x="849" y="682.3" width="1" height="4.9"/>
<rect x="850" y="682.3" width="1" height="5.3"/>
<rect x="852" y="682.3" width="1" height="5.8"/>
<rect x="853" y="682.3" width="1" height="6.3"/>
<rect x="855" y="682.3" width="1" height="6.7"/>
<rect x="856" y="682.3" width="1" height="6.5"/>
<rect x="858" y="682.3" width="1" height="6.3"/>
<rect x="859" y="682.3" width="1" height="6.1"/>
<rect x="861" y="682.3" width="1" height="6.0"/>
<rect x="862" y="682.3" width="1" height="5.8"/>
<rect x="864" y="682.3" width="1" height="5.6"/>
<rect x="865" y="682.3" width="1" height="5.4"/>
<rect x="867" y="682.3" width="1" height="5.3"/>
<rect x="868" y="682.3" width="1" height="5.1"/>
<rect x="870" y="682.3" width="1" height="4.9"/>
<rect x="871" y="682.3" width="1" height="4.6"/>
<rect x="873" y="682.3" width="1" height="4.3"/>
<rect x="874" y="682.3" width="1" height="4.0"/>
<rect x="876" y="682.3" width="1" height="3.7"/>
<rect x="877" y="682.3" width="1" height="3.4"/>
<rect x="879" y="682.3" width="1" height="3.1"/>
<rect x="880" y="682.3" width="1" height="2.8"/>
<rect x="882" y="682.3" width="1" height="2.5"/>
<rect x="883" y="682.3" width="1" height="2.1"/>
<rect x="885" y="682.3" width="1" height="1.6"/>
<rect x="886" y="682.3" width="1" height="1.1"/>
<rect x="888" y="681.8" width="1" height="1.4"/>
<rect x="889" y="681.8" width="1" height="1.4"/>
<rect x="891" y="681.8" width="1" height="1.4"/>
<rect x="892" y="681.0" width="1" height="1.3"/>
<rect x="894" y="680.4" width="1" height="1.9"/>
<rect x="895" y="679.9" width="1" height="2.4"/>
<rect x="897" y="679.6" width="1" height="2.7"/>
<rect x="898" y="679.3" width="1" height="3.0"/>
<rect x="900" y="679.0" width="1" height="3.3"/>
<rect x="901" y="679.0" width="1" height="3.3"/>
<rect x="903" y="679.3" width="1" height="3.0"/>
<rect x="904" y="679.6" width="1" height="2.7"/>
<rect x="906" y="679.9" width="1" height="2.4"/>
<rect x="907" y="680.3" width="1" height="2.0"/>
<rect x="909" y="680.8" width="1" height="1.5"/>
<rect x="910" y="681.8" width="1" height="1.4"/>
<rect x="912" y="681.8" width="1" height="1.4"/>
<rect x="913" y="682.3" width="1" height="1.6"/>
<rect x="915" y="682.3" width="1" height="3.1"/>
<rect x="916" y="682.3" width="1" height="4.5"/>
<rect x="918" y="682.3" width="1" height="5.9"/>
<rect x="919" y="682.3" width="1" height="7.2"/>
<rect x="921" y="682.3" width="1" height="8.4"/>
<rect x="922" y="682.3" width="1" height="9.5"/>
<rect x="924" y="682.3" width="1" height="10.6"/>
<rect x="925" y="682.3" width="1" height="9.3"/>
<rect x="927" y="682.3" width="1" height="8.0"/>
<rect x="928" y="682.3" width="1" height="6.8"/>
<rect x="930" y="682.3" width="1" height="5.5"/>
<rect x="931" y="682.3" width="1" height="4.2"/>
<rect x="933" y="682.3" width="1" height="3.0"/>
<rect x="934" y="682.3" width="1" height="1.9"/>
<rect x="936" y="681.8" width="1" height="1.4"/>
<rect x="937" y="681.8" width="1" height="1.4"/>
<rect x="939" y="681.8" width="1" height="1.4"/>
<rect x="940" y="681.1" width="1" height="1.2"/>
<rect x="942" y="680.5" width="1" height="1.8"/>
<rect x="943" y="680.2" width="1" height="2.1"/>
<rect x="945" y="679.9" width="1" height="2.4"/>
<rect x="946" y="679.6" width="1" height="2.7"/>
<rect x="948" y="679.3" width="1" height="3.0"/>
<rect x="949" y="679.1" width="1" height="3.2"/>
<rect x="951" y="678.8" width="1" height="3.5"/>
<rect x="952" y="678.6" width="1" height="3.7"/>
<rect x="954" y="678.3" width="1" height="4.0"/>
<rect x="955" y="678.1" width="1" height="4.2"/>
<rect x="957" y="678.8" width="1" height="3.5"/>
<rect x="958" y="679.9" width="1" height="2.4"/>
<rect x="960" y="681.0" width="1" height="1.3"/>
<rect x="961" y="681.8" width="1" height="1.4"/>
<rect x="963" y="681.8" width="1" height="1.4"/>
<rect x="964" y="682.3" width="1" height="1.8"/>
<rect x="966" y="682.3" width="1" height="2.8"/>
<rect x="967" y="682.3" width="1" height="3.8"/>
<rect x="969" y="682.3" width="1" height="4.8"/>
<rect x="970" y="682.3" width="1" height="5.7"/>
<rect x="972" y="682.3" width="1" height="6.4"/>
<rect x="973" y="682.3" width="1" height="7.2"/>
<rect x="975" y="682.3" width="1" height="7.9"/>
<rect x="976" y="682.3" width="1" height="8.7"/>
<rect x="978" y="682.3" width="1" height="9.2"/>
<rect x="979" y="682.3" width="1" height="9.0"/>
<rect x="981" y="682.3" width="1" height="8.7"/>
<rect x="982" y="682.3" width="1" height="8.5"/>
<rect x="984" y="682.3" width="1" height="8.2"/>
<rect x="985" y="682.3" width="1" height="7.9"/>
<rect x="987" y="682.3" width="1" height="7.7"/>
<rect x="988" y="682.3" width="1" height="7.3"/>
<rect x="990" y="682.3" width="1" height="6.7"/>
<rect x="991" y="682.3" width="1" height="6.2"/>
<rect x="993" y="682.3" width="1" height="5.6"/>
<rect x="994" y="682.3" width="1" height="5.0"/>
<rect x="996" y="682.3" width="1" height="4.4"/>
<rect x="997" y="682.3" width="1" height="3.9"/>
<rect x="999" y="682.3" width="1" height="3.3"/>
<rect x="1000" y="682.3" width="1" height="2.7"/>
<rect x="1002" y="682.3" width="1" height="1.6"/>
<rect x="1003" y="681.8" width="1" height="1.4"/>
<rect x="1005" y="681.8" width="1" height="1.4"/>
<rect x="1006" y="681.1" width="1" height="1.2"/>
<rect x="1008" y="680.3" width="1" height="2.0"/>
<rect x="1009" y="679.5" width="1" height="2.8"/>
<rect x="1011" y="678.7" width="1" height="3.6"/>
<rect x="1012" y="677.9" width="1" height="4.4"/>
<rect x="1014" y="677.2" width="1" height="5.1"/>
<rect x="1015" y="676.4" width="1" height="5.9"/>
<rect x="1017" y="675.7" width="1" height="6.6"/>
<rect x="1018" y="674.9" width="1" height="7.4"/>
<rect x="1020" y="674.2" width="1" height="8.1"/>
<rect x="1021" y="673.4" width="1" height="8.9"/>
<rect x="1023" y="672.7" width="1" height="9.6"/>
<rect x="1024" y="671.9" width="1" height="10.4"/>
<rect x="1026" y="674.3" width="1" height="8.0"/>
<rect x="1027" y="677.5" width="1" height="4.8"/>
<rect x="1029" y="680.3" width="1" height="2.0"/>
<rect x="1030" y="681.8" width="1" height="1.4"/>
<rect x="1032" y="681.8" width="1" height="1.4"/>
<rect x="1033" y="682.3" width="1" height="1.4"/>
<rect x="1035" y="682.3" width="1" height="2.1"/>
<rect x="1036" y="682.3" width="1" height="2.9"/>
<rect x="1038" y="682.3" width="1" height="3.2"/>
<rect x="1039" y="682.3" width="1" height="2.6"/>
<rect x="1041" y="682.3" width="1" height="1.9"/>
<rect x="1042" y="682.3" width="1" height="1.3"/>
<rect x="1044" y="681.8" width="1" height="1.4"/>
<rect x="1045" y="681.8" width="1" height="1.4"/>
<rect x="1047" y="681.8" width="1" height="1.4"/>
<rect x="1048" y="680.8" width="1" height="1.5"/>
<rect x="1050" y="680.0" width="1" height="2.3"/>
<rect x="1051" y="679.2" width="1" height="3.0"/>
<rect x="1053" y="678.5" width="1" height="3.8"/>
<rect x="1054" y="678.2" width="1" height="4.1"/>
<rect x="1056" y="678.6" width="1" height="3.7"/>
<rect x="1057" y="679.1" width="1" height="3.2"/>
<rect x="1059" y="679.6" width="1" height="2.7"/>
<rect x="1060" y="680.0" width="1" height="2.3"/>
<rect x="1062" y="680.5" width="1" height="1.8"/>
<rect x="1063" y="681.3" width="1" height="1.0"/>
<rect x="1065" y="681.8" width="1" height="1.4"/>
<rect x="1066" y="681.8" width="1" height="1.4"/>
<rect x="1068" y="682.3" width="1" height="1.7"/>
<rect x="1069" y="682.3" width="1" height="2.7"/>
<rect x="1071" y="682.3" width="1" height="3.7"/>
<rect x="1072" y="682.3" width="1" height="4.7"/>
<rect x="1074" y="682.3" width="1" height="5.2"/>
<rect x="1075" y="682.3" width="1" height="4.4"/>
<rect x="1077" y="682.3" width="1" height="3.7"/>
<rect x="1078" y="682.3" width="1" height="2.9"/>
<rect x="1080" y="682.3" width="1" height="2.2"/>
<rect x="1081" y="682.3" width="1" height="1.5"/>
<rect x="1083" y="681.8" width="1" height="1.4"/>
<rect x="1084" y="681.8" width="1" height="1.4"/>
<rect x="1086" y="681.8" width="1" height="1.4"/>
<rect x="1087" y="680.6" width="1" height="1.7"/>
<rect x="1089" y="680.8" width="1" height="1.5"/>
<rect x="1090" y="681.1" width="1" height="1.2"/>
<rect x="1092" y="681.8" width="1" height="1.4"/>
<rect x="1093" y="681.8" width="1" height="1.4"/>
<rect x="1095" y="681.8" width="1" height="1.4"/>
<rect x="1096" y="681.8" width="1" height="1.4"/>
<rect x="1098" y="682.3" width="1" height="1.4"/>
<rect x="1099" y="682.3" width="1" height="2.2"/>
<rect x="1101" y="682.3" width="1" height="3.0"/>
<rect x="1102" y="682.3" width="1" height="3.8"/>
<rect x="1104" y="682.3" width="1" height="4.8"/>
<rect x="1105" y="682.3" width="1" height="5.8"/>
<rect x="1107" y="682.3" width="1" height="6.8"/>
<rect x="1108" y="682.3" width="1" height="7.8"/>
<rect x="1110" y="682.3" width="1" height="8.8"/>
<rect x="1111" y="682.3" width="1" height="9.7"/>
<rect x="1113" y="682.3" width="1" height="10.3"/>
<rect x="1114" y="682.3" width="1" height="11.0"/>
<rect x="1116" y="682.3" width="1" height="11.6"/>
<rect x="1117" y="682.3" width="1" height="12.3"/>
<rect x="1119" y="682.3" width="1" height="12.4"/>
<rect x="1120" y="682.3" width="1" height="11.8"/>
<rect x="1122" y="682.3" width="1" height="11.1"/>
<rect x="1123" y="682.3" width="1" height="10.4"/>
<rect x="1125" y="682.3" width="1" height="9.7"/>
<rect x="1126" y="682.3" width="1" height="9.0"/>
<rect x="1128" y="682.3" width="1" height="8.3"/>
<rect x="1129" y="682.3" width="1" height="7.5"/>
<rect x="1131" y="682.3" width="1" height="6.8"/>
<rect x="1132" y="682.3" width="1" height="6.0"/>
<rect x="1134" y="682.3" width="1" height="5.4"/>
<rect x="1135" y="682.3" width="1" height="5.4"/>
<rect x="1137" y="682.3" width="1" height="5.4"/>
<rect x="1138" y="682.3" width="1" height="5.4"/>
<rect x="1140" y="682.3" width="1" height="5.4"/>
<rect x="1141" y="682.3" width="1" height="5.4"/>
<rect x="1143" y="682.3" width="1" height="5.4"/>
<rect x="1144" y="682.3" width="1" height="5.4"/>
<rect x="1146" y="682.3" width="1" height="5.4"/>
<rect x="1147" y="682.3" width="1" height="5.0"/>
<rect x="1149" y="682.3" width="1" height="4.5"/>
<rect x="1150" y="682.3" width="1" height="4.0"/>
<rect x="1152" y="682.3" width="1" height="3.4"/>
<rect x="1153" y="682.3" width="1" height="2.9"/>
<rect x="1155" y="682.3" width="1" height="2.3"/>
<rect x="1156" y="682.3" width="1" height="1.8"/>
<rect x="1158" y="682.3" width="1" height="1.2"/>
<rect x="1159" y="681.8" width="1" height="1.4"/>
<rect x="1161" y="681.8" width="1" height="1.4"/>
<rect x="1162" y="681.8" width="1" height="1.4"/>
<rect x="1164" y="681.2" width="1" height="1.1"/>
<rect x="1165" y="681.2" width="1" height="1.1"/>
<rect x="1167" y="681.8" width="1" height="1.4"/>
<rect x="1168" y="681.8" width="1" height="1.4"/>
<rect x="1170" y="681.8" width="1" height="1.4"/>
<rect x="1171" y="681.8" width="1" height="1.4"/>
<rect x="1173" y="682.3" width="1" height="2.0"/>
<rect x="1174" y="682.3" width="1" height="3.2"/>
<rect x="1176" y="682.3" width="1" height="4.5"/>
<rect x="1177" y="682.3" width="1" height="5.8"/>
<rect x="1179" y="682.3" width="1" height="6.7"/>
<rect x="1180" y="682.3" width="1" height="6.8"/>
<rect x="1182" y="682.3" width="1" height="6.9"/>
<rect x="1183" y="682.3" width="1" height="7.0"/>
<rect x="1185" y="682.3" width="1" height="7.1"/>
<rect x="1186" y="682.3" width="1" height="7.1"/>
<rect x="1188" y="682.3" width="1" height="7.2"/>
<rect x="1189" y="682.3" width="1" height="7.3"/>
<rect x="1191" y="682.3" width="1" height="7.4"/>
<rect x="1192" y="682.3" width="1" height="7.5"/>
<rect x="1194" y="682.3" width="1" height="7.2"/>
<rect x="1195" y="682.3" width="1" height="6.9"/>
<rect x="1197" y="682.3" width="1" height="6.6"/>
<rect x="1198" y="682.3" width="1" height="6.3"/>
<rect x="1200" y="682.3" width="1" height="6.0"/>
<rect x="1201" y="682.3" width="1" height="5.7"/>
<rect x="1203" y="682.3" width="1" height="5.4"/>
<rect x="1204" y="682.3" width="1" height="5.1"/>
<rect x="1206" y="682.3" width="1" height="4.8"/>
<rect x="1207" y="682.3" width="1" height="4.7"/>
<rect x="1209" y="682.3" width="1" height="4.5"/>
<rect x="1210" y="682.3" width="1" height="4.3"/>
<rect x="1212" y="682.3" width="1" height="4.1"/>
<rect x="1213" y="682.3" width="1" height="4.0"/>
<rect x="1215" y="682.3" width="1" height="3.8"/>
<rect x="1216" y="682.3" width="1" height="3.6"/>
<rect x="1218" y="682.3" width="1" height="3.4"/>
<rect x="1219" y="682.3" width="1" height="3.2"/>
<rect x="1221" y="682.3" width="1" height="2.9"/>
<rect x="1222" y="682.3" width="1" height="2.7"/>
<rect x="1224" y="682.3" width="1" height="2.4"/>
<rect x="1225" y="682.3" width="1" height="2.2"/>
<rect x="1227" y="682.3" width="1" height="1.9"/>
<rect x="1228" y="682.3" width="1" height="1.6"/>
<rect x="1230" y="682.3" width="1" height="1.4"/>
<rect x="1231" y="682.3" width="1" height="1.2"/>
<rect x="1233" y="682.3" width="1" height="1.2"/>
<rect x="1234" y="682.3" width="1" height="1.2"/>
<rect x="1236" y="682.3" width="1" height="1.2"/>
<rect x="1237" y="682.3" width="1" height="1.2"/>
<rect x="1239" y="682.3" width="1" height="1.2"/>
<rect x="1240" y="682.3" width="1" height="1.2"/>
<rect x="1242" y="682.3" width="1" height="1.3"/>
<rect x="1243" y="682.3" width="1" height="1.6"/>
<rect x="1245" y="682.3" width="1" height="1.9"/>
<rect x="1246" y="682.3" width="1" height="2.2"/>
<rect x="1248" y="682.3" width="1" height="2.5"/>
<rect x="1249" y="682.3" width="1" height="2.9"/>
<rect x="1251" y="682.3" width="1" height="3.5"/>
<rect x="1252" y="682.3" width="1" height="4.2"/>
<rect x="1254" y="682.3" width="1" height="4.8"/>
<rect x="1255" y="682.3" width="1" height="5.4"/>
<rect x="1257" y="682.3" width="1" height="5.9"/>
<rect x="1258" y="682.3" width="1" height="5.7"/>
<rect x="1260" y="682.3" width="1" height="5.5"/>
<rect x="1261" y="682.3" width="1" height="5.3"/>
<rect x="1263" y="682.3" width="1" height="5.1"/>
<rect x="1264" y="682.3" width="1" height="4.9"/>
<rect x="1266" y="682.3" width="1" height="4.2"/>
<rect x="1267" y="682.3" width="1" height="3.6"/>
<rect x="1269" y="682.3" width="1" height="3.0"/>
<rect x="1270" y="682.3" width="1" height="2.3"/>
<rect x="1272" y="682.3" width="1" height="1.7"/>
</g>
<path d="M5.6,757.0 C7.8,758.3 17.8,766.0 21.8,767.0 C25.8,768.0 32.3,766.1 35.9,764.6 C39.5,763.1 45.3,760.4 48.7,755.6 C52.1,750.8 58.1,736.4 61.5,728.7 C64.9,721.0 71.2,705.0 74.3,698.0 C77.4,691.0 81.8,680.5 84.5,676.0 C87.2,671.5 92.1,666.0 94.8,664.0 C97.5,662.0 102.3,661.2 105.0,660.8 C107.7,660.4 112.6,660.3 115.3,661.3 C118.0,662.3 122.4,665.3 125.5,668.5 C128.6,671.7 135.0,680.4 138.4,685.0 C141.8,689.6 147.8,698.7 151.2,703.0 C154.6,707.3 161.3,714.8 164.0,717.0 C166.7,719.2 169.0,720.5 171.7,719.8 C174.4,719.1 181.1,714.6 184.5,712.0 C187.9,709.4 193.9,703.6 197.3,700.5 C200.7,697.4 206.6,691.7 210.0,689.0 C213.4,686.3 219.8,681.9 222.9,680.0 C226.0,678.1 230.5,675.4 233.0,674.4 C235.5,673.4 239.6,672.2 242.0,672.4 C244.4,672.6 248.8,674.7 251.0,676.2 C253.2,677.7 256.7,682.2 258.8,684.0 C260.9,685.8 263.8,688.9 266.5,689.8 C269.2,690.7 276.2,690.2 279.3,690.8 C282.4,691.4 286.1,692.4 289.5,694.0 C292.9,695.6 301.1,701.4 304.9,703.0 C308.7,704.6 314.4,705.7 317.7,706.2 C321.0,706.7 325.6,707.1 330.0,707.0 C334.4,706.9 346.1,706.7 350.5,705.7 C354.9,704.7 359.9,701.0 363.3,699.3 C366.7,697.6 372.9,695.0 376.0,692.9 C379.1,690.8 384.0,686.0 386.4,683.9 C388.8,681.8 392.0,679.1 394.0,677.5 C396.0,675.9 399.3,672.8 401.7,671.8 C404.1,670.8 409.3,669.7 412.0,669.8 C414.7,669.9 418.8,671.9 422.2,672.9 C425.6,673.9 433.8,675.5 437.6,677.0 C441.4,678.5 447.0,682.0 450.4,683.9 C453.8,685.8 459.8,690.1 463.2,691.6 C466.6,693.1 472.6,694.8 476.0,695.4 C479.4,696.0 485.5,695.7 488.9,696.0 C492.3,696.3 498.6,698.1 501.7,697.5 C504.8,696.9 508.8,693.1 511.9,691.6 C515.0,690.1 521.3,687.5 524.7,686.5 C528.1,685.5 534.4,684.9 537.5,683.9 C540.6,682.9 545.2,680.0 547.8,678.8 C550.4,677.6 554.0,675.2 556.7,675.0 C559.4,674.8 565.1,676.8 568.3,677.5 C571.5,678.2 577.9,679.1 581.0,680.0 C584.1,680.9 587.5,683.3 591.3,683.9 C595.1,684.5 605.2,685.1 609.3,684.7 C613.4,684.3 618.6,681.5 622.0,680.6 C625.4,679.7 631.5,679.2 634.9,678.0 C638.3,676.8 644.6,673.2 647.7,671.8 C650.8,670.4 655.2,667.9 658.0,667.2 C660.8,666.5 666.0,666.1 669.0,666.7 C672.0,667.3 677.6,670.7 680.5,671.8 C683.4,672.9 687.6,674.7 690.7,675.0 C693.8,675.3 700.5,674.9 703.6,674.4 C706.7,673.9 711.6,672.5 713.8,671.0 C716.0,669.5 718.5,665.8 720.2,663.4 C721.9,661.0 724.7,656.1 726.6,653.0 C728.5,649.9 732.2,643.2 734.3,640.3 C736.4,637.4 739.9,633.3 742.0,631.4 C744.1,629.5 747.3,627.6 749.7,626.2 C752.1,624.8 757.3,622.4 760.0,621.0 C762.7,619.6 767.3,617.3 770.0,616.0 C772.7,614.7 777.3,612.4 780.4,610.9 C783.5,609.4 790.1,606.6 793.2,604.5 C796.3,602.4 801.3,597.6 803.5,595.5 C805.7,593.4 808.5,590.1 809.9,589.0 C811.3,587.9 812.2,586.6 813.7,587.0 C815.2,587.4 819.0,589.7 821.4,591.7 C823.8,593.7 829.3,599.5 831.7,601.9 C834.1,604.3 837.0,607.7 839.4,609.6 C841.8,611.5 846.9,613.9 849.6,616.0 C852.3,618.1 857.1,623.4 859.8,625.7 C862.5,628.0 866.9,631.5 870.0,633.4 C873.1,635.3 879.8,639.0 882.9,639.6 C886.0,640.2 890.3,638.6 893.0,637.8 C895.7,637.0 900.7,634.3 903.4,633.4 C906.1,632.5 911.4,630.5 913.6,630.9 C915.8,631.3 918.3,634.6 920.0,636.5 C921.7,638.4 924.7,643.6 926.4,645.5 C928.1,647.4 930.5,650.3 932.9,650.6 C935.3,650.9 941.5,649.0 944.4,648.0 C947.3,647.0 952.0,644.2 954.6,642.9 C957.2,641.6 961.5,638.6 963.6,638.5 C965.7,638.4 968.1,639.9 970.0,642.0 C971.9,644.1 975.6,651.4 977.7,654.4 C979.8,657.4 983.4,662.6 985.4,664.7 C987.4,666.8 990.8,669.3 993.0,670.3 C995.2,671.3 999.1,673.0 1001.8,672.4 C1004.5,671.8 1010.7,668.2 1013.3,666.0 C1015.9,663.8 1019.1,658.1 1021.0,655.7 C1022.9,653.3 1025.7,648.7 1027.4,648.0 C1029.1,647.3 1031.9,649.9 1033.8,650.6 C1035.7,651.3 1039.3,653.2 1041.5,653.0 C1043.7,652.8 1048.3,650.5 1050.5,649.3 C1052.7,648.1 1056.3,645.1 1058.0,644.2 C1059.7,643.3 1061.6,642.4 1063.3,642.9 C1065.0,643.4 1069.0,646.7 1071.0,648.0 C1073.0,649.3 1076.4,652.2 1078.6,652.4 C1080.8,652.6 1085.2,649.8 1087.6,649.3 C1090.0,648.8 1094.5,648.2 1096.6,648.5 C1098.7,648.8 1101.3,650.1 1103.0,651.9 C1104.7,653.7 1107.5,658.8 1109.4,662.0 C1111.3,665.2 1114.9,672.4 1117.0,676.2 C1119.1,680.0 1122.6,687.4 1124.8,690.3 C1127.0,693.2 1131.1,696.1 1133.7,698.0 C1136.3,699.9 1141.6,703.0 1144.0,704.4 C1146.4,705.8 1149.8,707.9 1151.7,708.7 C1153.6,709.5 1155.8,710.4 1158.0,710.3 C1160.2,710.2 1166.2,707.8 1168.3,707.7 C1170.4,707.6 1171.5,708.1 1173.4,709.5 C1175.3,710.9 1180.2,716.1 1182.4,718.5 C1184.6,720.9 1187.8,724.8 1190.0,727.4 C1192.2,730.0 1196.6,735.6 1199.0,737.7 C1201.4,739.8 1205.6,741.4 1208.0,742.8 C1210.4,744.2 1214.6,746.9 1217.0,748.0 C1219.4,749.1 1223.4,750.7 1226.0,751.3 C1228.6,751.9 1233.5,752.0 1236.2,752.3 C1238.9,752.6 1244.1,752.9 1246.5,753.8 C1248.9,754.7 1252.0,757.5 1254.0,759.0 C1256.0,760.5 1259.9,763.7 1261.8,765.0 C1263.7,766.3 1266.8,768.3 1268.2,769.0 C1269.6,769.7 1272.0,770.0 1272.6,770.2" fill="none" stroke="#000" stroke-width="1" stroke-linejoin="round"/>
<path d="M5.6,759.5 C7.6,760.9 16.8,769.7 20.5,770.2 C24.2,770.7 29.9,765.6 33.3,763.3 C36.7,761.0 42.6,758.6 46.0,753.0 C49.4,747.4 55.6,729.2 59.0,721.0 C62.4,712.8 68.6,698.1 71.7,691.6 C74.8,685.1 79.8,676.2 82.0,672.4 C84.2,668.6 86.7,665.2 88.4,663.4 C90.1,661.6 92.2,659.3 94.8,658.8 C97.4,658.3 104.5,659.4 107.6,660.0 C110.7,660.6 115.2,661.1 117.9,663.4 C120.6,665.7 124.9,673.2 128.0,677.5 C131.1,681.8 137.6,690.6 141.0,695.4 C144.4,700.2 151.0,709.8 153.7,713.4 C156.4,717.0 158.2,721.6 160.9,722.3 C163.6,723.0 170.7,720.7 174.2,718.5 C177.7,716.3 183.6,709.0 187.0,705.7 C190.4,702.4 196.4,697.1 199.8,694.0 C203.2,690.9 209.3,685.1 212.7,682.6 C216.1,680.1 222.4,676.5 225.5,675.0 C228.6,673.5 233.3,672.0 235.7,671.6 C238.1,671.2 241.2,670.7 243.4,671.8 C245.6,672.9 250.3,677.7 252.4,680.0 C254.5,682.3 256.9,687.3 258.8,689.0 C260.7,690.7 263.8,692.7 266.5,692.9 C269.2,693.1 276.2,690.3 279.3,690.8 C282.4,691.3 286.1,694.8 289.5,696.7 C292.9,698.6 301.1,703.6 304.9,705.0 C308.7,706.4 314.4,706.7 317.7,707.0 C321.0,707.3 326.0,707.2 330.0,707.0 C334.0,706.8 343.9,707.1 348.0,705.7 C352.1,704.3 357.3,698.8 360.7,696.7 C364.1,694.6 370.5,692.4 373.6,690.3 C376.7,688.2 381.4,683.3 383.8,681.3 C386.2,679.3 389.6,676.5 391.5,675.0 C393.4,673.5 395.8,670.6 397.9,669.8 C400.0,669.0 404.5,669.0 406.9,669.3 C409.3,669.6 413.1,670.9 415.8,671.8 C418.5,672.7 424.1,675.2 427.4,676.2 C430.7,677.2 437.1,678.0 440.2,679.5 C443.3,681.0 447.7,685.9 450.4,687.7 C453.1,689.5 458.0,691.8 460.7,692.9 C463.4,694.0 467.8,695.7 470.9,696.0 C474.0,696.3 480.3,695.2 483.7,695.4 C487.1,695.6 493.8,697.5 496.5,697.5 C499.2,697.5 502.1,696.5 504.2,695.4 C506.3,694.3 509.2,690.4 511.9,689.0 C514.6,687.6 521.3,685.6 524.7,684.7 C528.1,683.8 534.4,683.7 537.5,682.6 C540.6,681.5 545.6,677.4 547.8,676.2 C550.0,675.0 552.2,673.6 554.2,673.6 C556.2,673.6 560.1,675.3 563.0,676.2 C565.9,677.1 572.9,679.1 576.0,680.0 C579.1,680.9 583.3,682.0 586.0,682.6 C588.7,683.2 593.4,684.4 596.5,684.7 C599.6,685.0 606.2,685.4 609.3,684.7 C612.4,684.0 616.4,680.5 619.5,679.5 C622.6,678.5 629.2,678.4 632.3,677.5 C635.4,676.6 639.7,673.8 642.6,672.4 C645.5,671.0 651.3,667.6 654.0,666.7 C656.7,665.8 661.2,665.9 663.0,666.0 C664.8,666.1 665.7,666.2 667.7,667.2 C669.7,668.2 675.3,672.4 678.0,673.6 C680.7,674.8 684.9,676.0 688.0,676.2 C691.1,676.4 697.9,676.0 701.0,675.0 C704.1,674.0 708.8,670.6 711.0,668.5 C713.2,666.4 715.9,662.4 717.6,659.5 C719.3,656.6 722.1,650.0 724.0,646.7 C725.9,643.4 729.6,637.6 731.7,635.0 C733.8,632.4 737.4,629.1 739.4,627.5 C741.4,625.9 744.9,623.7 747.0,623.0 C749.1,622.3 752.7,623.1 754.8,622.4 C756.9,621.7 760.1,619.4 762.5,618.0 C764.9,616.6 770.0,613.4 772.7,612.0 C775.4,610.6 780.3,609.1 783.0,607.8 C785.7,606.5 790.6,604.0 793.0,602.0 C795.4,600.0 799.1,595.2 801.0,593.0 C802.9,590.8 805.8,586.9 807.3,585.8 C808.8,584.7 811.2,584.1 812.4,584.4 C813.6,584.7 814.4,586.1 816.3,588.3 C818.2,590.5 823.8,597.4 826.5,600.6 C829.2,603.8 834.7,610.0 836.8,612.0 C838.9,614.0 840.5,614.9 842.0,615.5 C843.5,616.1 846.3,615.1 848.3,616.5 C850.3,617.9 855.1,623.7 857.3,626.0 C859.5,628.3 862.6,631.7 865.0,633.4 C867.4,635.1 872.9,638.0 875.0,639.0 C877.1,640.0 879.2,641.2 880.9,641.0 C882.6,640.8 885.7,638.9 888.0,637.8 C890.3,636.7 895.7,633.9 898.3,632.6 C900.9,631.3 905.2,628.3 907.2,628.3 C909.2,628.3 912.1,630.7 913.6,632.6 C915.1,634.5 917.3,640.0 918.8,642.9 C920.3,645.8 923.5,653.1 925.2,654.4 C926.9,655.7 929.4,653.9 931.6,653.0 C933.8,652.1 939.1,649.6 941.8,648.0 C944.5,646.4 949.6,642.5 952.0,641.0 C954.4,639.5 957.9,636.6 959.8,636.5 C961.7,636.4 964.3,638.2 966.0,640.3 C967.7,642.4 970.5,648.3 972.6,651.9 C974.7,655.5 979.3,664.5 981.5,667.2 C983.7,669.9 986.7,671.4 989.2,672.4 C991.7,673.4 997.6,675.4 1000.5,674.4 C1003.4,673.4 1008.3,667.7 1010.7,664.7 C1013.1,661.7 1016.5,654.8 1018.4,651.9 C1020.3,649.0 1023.1,643.1 1024.8,642.9 C1026.5,642.7 1029.3,648.9 1031.2,650.6 C1033.1,652.3 1036.7,655.9 1038.9,655.7 C1041.1,655.5 1045.5,651.2 1047.9,649.3 C1050.3,647.4 1055.0,642.7 1056.9,641.6 C1058.8,640.5 1060.5,640.1 1062.0,641.0 C1063.5,641.9 1066.5,646.0 1068.4,648.0 C1070.3,650.0 1074.1,655.2 1076.0,655.7 C1077.9,656.2 1080.6,652.5 1082.5,651.4 C1084.4,650.3 1088.0,647.6 1090.2,647.3 C1092.4,647.0 1097.0,647.7 1099.0,649.3 C1101.0,650.9 1103.6,655.7 1105.5,659.5 C1107.4,663.3 1111.1,673.2 1113.2,677.5 C1115.3,681.8 1118.5,688.5 1120.9,691.6 C1123.3,694.7 1128.5,698.4 1131.2,700.5 C1133.9,702.6 1139.0,705.6 1141.4,707.0 C1143.8,708.4 1147.1,710.1 1149.0,710.8 C1150.9,711.5 1153.6,712.8 1155.5,712.6 C1157.4,712.4 1161.3,710.1 1163.2,709.5 C1165.1,708.9 1167.7,707.2 1169.6,708.2 C1171.5,709.2 1175.2,714.6 1177.3,717.2 C1179.4,719.8 1182.9,724.8 1185.0,727.4 C1187.1,730.0 1190.7,734.3 1192.7,736.4 C1194.7,738.5 1198.3,742.1 1200.3,743.3 C1202.3,744.5 1205.9,744.4 1208.0,745.4 C1210.1,746.4 1213.5,749.5 1215.7,750.5 C1217.9,751.5 1222.3,752.8 1224.7,753.0 C1227.1,753.2 1231.0,752.2 1233.6,752.3 C1236.2,752.4 1241.8,753.1 1243.9,753.8 C1246.0,754.5 1247.3,755.8 1249.0,757.4 C1250.7,759.0 1254.6,764.1 1256.7,765.9 C1258.8,767.7 1262.4,770.2 1264.4,771.0 C1266.4,771.8 1271.0,771.7 1272.0,771.8" fill="none" stroke="#c81414" stroke-width="1" stroke-linejoin="round"/>
<!-- value boxes -->
<rect x="1299" y="365" width="53" height="14" fill="#d2cec8"/>
<rect x="1299" y="676" width="53" height="15" fill="#0000f5"/>
<rect x="1299" y="744" width="53" height="14.5" fill="#000"/>
<rect x="1299" y="758.5" width="53" height="14" fill="#ff0000"/>
<text x="1308.7" y="374.9" font-size="10.5" fill="#000" textLength="31.5" lengthAdjust="spacingAndGlyphs">168,35</text>
<text x="1305.8" y="687.1" font-size="10.5" fill="#fff" textLength="41.5" lengthAdjust="spacingAndGlyphs">-0,44412</text>
<text x="1308.9" y="754.8" font-size="10.5" fill="#fff" textLength="35.4" lengthAdjust="spacingAndGlyphs">-37,805</text>
<text x="1308.9" y="768.8" font-size="10.5" fill="#fff" textLength="35.4" lengthAdjust="spacingAndGlyphs">-38,249</text>
<text x="4.5" y="12.8" fill="#dfa838" font-size="11.5" textLength="85.5" lengthAdjust="spacingAndGlyphs" text-anchor="start">BAIDU SP ADR-</text>
<text x="4.8" y="26.9" fill="#dfa838" font-size="10.5" textLength="6.6" lengthAdjust="spacingAndGlyphs" text-anchor="start">D</text>
<text x="13.7" y="26.9" fill="#000" font-size="10.5" textLength="53.7" lengthAdjust="spacingAndGlyphs" text-anchor="start">26/01/2019</text>
<text x="74.3" y="26.9" fill="#dfa838" font-size="10.5" text-anchor="start">T</text>
<text x="81.4" y="26.9" fill="#000" font-size="10.5" textLength="41.6" lengthAdjust="spacingAndGlyphs" text-anchor="start">00:00:00</text>
<text x="132" y="26.9" fill="#dfa838" font-size="10.5" text-anchor="start">O</text>
<text x="141.7" y="26.9" fill="#000" font-size="10.5" textLength="32.6" lengthAdjust="spacingAndGlyphs" text-anchor="start">168,35</text>
<text x="180.8" y="26.9" fill="#dfa838" font-size="10.5" text-anchor="start">H</text>
<text x="190" y="26.9" fill="#000" font-size="10.5" textLength="32.6" lengthAdjust="spacingAndGlyphs" text-anchor="start">168,35</text>
<text x="229" y="26.9" fill="#dfa838" font-size="10.5" text-anchor="start">L</text>
<text x="236.8" y="26.9" fill="#000" font-size="10.5" textLength="32.6" lengthAdjust="spacingAndGlyphs" text-anchor="start">168,35</text>
<text x="276.2" y="26.9" fill="#dfa838" font-size="10.5" text-anchor="start">C</text>
<text x="284.4" y="26.9" fill="#000" font-size="10.5" textLength="32.8" lengthAdjust="spacingAndGlyphs" text-anchor="start">168,35</text>
<text x="326.7" y="26.9" fill="#dfa838" font-size="10.5" text-anchor="start">V</text>
<text x="335.5" y="26.9" fill="#000" font-size="10.5" text-anchor="start">0</text>
<text x="350" y="26.9" fill="#dfa838" font-size="10.5" textLength="27" lengthAdjust="spacingAndGlyphs" text-anchor="start">Var%</text>
<text x="379.5" y="26.9" fill="#000" font-size="10.5" textLength="33.5" lengthAdjust="spacingAndGlyphs" text-anchor="start">1,0262</text>
<text x="1300.6" y="40.8" fill="#cf9a3a" font-size="10" textLength="31.4" lengthAdjust="spacingAndGlyphs" text-anchor="start">275,00</text>
<text x="1300.6" y="119.4" fill="#cf9a3a" font-size="10" textLength="31.4" lengthAdjust="spacingAndGlyphs" text-anchor="start">250,00</text>
<text x="1300.6" y="198.0" fill="#cf9a3a" font-size="10" textLength="31.4" lengthAdjust="spacingAndGlyphs" text-anchor="start">225,00</text>
<text x="1300.6" y="276.6" fill="#cf9a3a" font-size="10" textLength="31.4" lengthAdjust="spacingAndGlyphs" text-anchor="start">200,00</text>
<text x="1300.6" y="355.2" fill="#cf9a3a" font-size="10" textLength="31.4" lengthAdjust="spacingAndGlyphs" text-anchor="start">175,00</text>
<text x="1300.6" y="433.8" fill="#cf9a3a" font-size="10" textLength="31.4" lengthAdjust="spacingAndGlyphs" text-anchor="start">150,00</text>
<text x="56" y="566.7" fill="#cf9a3a" font-size="10.4" textLength="57.2" text-anchor="start" lengthAdjust="spacing">01-Dic-2015</text>
<text x="56" y="785.2" fill="#cf9a3a" font-size="10.4" textLength="57.2" text-anchor="start" lengthAdjust="spacing">01-Dic-2015</text>
<text x="146.9" y="566.7" fill="#cf9a3a" font-size="10.4" textLength="59.6" text-anchor="start" lengthAdjust="spacing">01-Mar-2016</text>
<text x="146.9" y="785.2" fill="#cf9a3a" font-size="10.4" textLength="59.6" text-anchor="start" lengthAdjust="spacing">01-Mar-2016</text>
<text x="245.8" y="566.7" fill="#cf9a3a" font-size="10.4" textLength="58.5" text-anchor="start" lengthAdjust="spacing">01-Giu-2016</text>
<text x="245.8" y="785.2" fill="#cf9a3a" font-size="10.4" textLength="58.5" text-anchor="start" lengthAdjust="spacing">01-Giu-2016</text>
<text x="344" y="566.7" fill="#cf9a3a" font-size="10.4" textLength="57.3" text-anchor="start" lengthAdjust="spacing">01-Set-2016</text>
<text x="344" y="785.2" fill="#cf9a3a" font-size="10.4" textLength="57.3" text-anchor="start" lengthAdjust="spacing">01-Set-2016</text>
<text x="439.4" y="566.7" fill="#cf9a3a" font-size="10.4" textLength="58.1" text-anchor="start" lengthAdjust="spacing">01-Dic-2016</text>
<text x="439.4" y="785.2" fill="#cf9a3a" font-size="10.4" textLength="58.1" text-anchor="start" lengthAdjust="spacing">01-Dic-2016</text>
<text x="529.7" y="566.7" fill="#cf9a3a" font-size="10.4" textLength="59.6" text-anchor="start" lengthAdjust="spacing">01-Mar-2017</text>
<text x="529.7" y="785.2" fill="#cf9a3a" font-size="10.4" textLength="59.6" text-anchor="start" lengthAdjust="spacing">01-Mar-2017</text>
<text x="628.4" y="566.7" fill="#cf9a3a" font-size="10.4" textLength="58.6" text-anchor="start" lengthAdjust="spacing">01-Giu-2017</text>
<text x="628.4" y="785.2" fill="#cf9a3a" font-size="10.4" textLength="58.6" text-anchor="start" lengthAdjust="spacing">01-Giu-2017</text>
<text x="726.4" y="566.7" fill="#cf9a3a" font-size="10.4" textLength="57.4" text-anchor="start" lengthAdjust="spacing">01-Set-2017</text>
<text x="726.4" y="785.2" fill="#cf9a3a" font-size="10.4" textLength="57.4" text-anchor="start" lengthAdjust="spacing">01-Set-2017</text>
<text x="822" y="566.7" fill="#cf9a3a" font-size="10.4" textLength="57" text-anchor="start" lengthAdjust="spacing">01-Dic-2017</text>
<text x="822" y="785.2" fill="#cf9a3a" font-size="10.4" textLength="57" text-anchor="start" lengthAdjust="spacing">01-Dic-2017</text>
<text x="912" y="566.7" fill="#cf9a3a" font-size="10.4" textLength="59.6" text-anchor="start" lengthAdjust="spacing">01-Mar-2018</text>
<text x="912" y="785.2" fill="#cf9a3a" font-size="10.4" textLength="59.6" text-anchor="start" lengthAdjust="spacing">01-Mar-2018</text>
<text x="1010" y="566.7" fill="#cf9a3a" font-size="10.4" textLength="58" text-anchor="start" lengthAdjust="spacing">01-Giu-2018</text>
<text x="1010" y="785.2" fill="#cf9a3a" font-size="10.4" textLength="58" text-anchor="start" lengthAdjust="spacing">01-Giu-2018</text>
<text x="1108.7" y="566.7" fill="#cf9a3a" font-size="10.4" textLength="57.3" text-anchor="start" lengthAdjust="spacing">04-Set-2018</text>
<text x="1108.7" y="785.2" fill="#cf9a3a" font-size="10.4" textLength="57.3" text-anchor="start" lengthAdjust="spacing">04-Set-2018</text>
<text x="1205" y="566.7" fill="#cf9a3a" font-size="10.4" textLength="57.3" text-anchor="start" lengthAdjust="spacing">03-Dic-2018</text>
<text x="1205" y="785.2" fill="#cf9a3a" font-size="10.4" textLength="57.3" text-anchor="start" lengthAdjust="spacing">03-Dic-2018</text>
<text x="17.5" y="578.7" fill="#dfa838" font-size="10.5" textLength="29.5" lengthAdjust="spacingAndGlyphs" text-anchor="start">MACD</text>
<text x="67.2" y="578.7" fill="#dfa838" font-size="10.5" textLength="52" lengthAdjust="spacingAndGlyphs" text-anchor="start">(32 , 200) :</text>
<text x="129.3" y="578.7" fill="#c01818" font-size="10.5" textLength="35.7" lengthAdjust="spacingAndGlyphs" text-anchor="start">-38,249</text>
<text x="180.3" y="578.7" fill="#dfa838" font-size="10.5" textLength="10.7" lengthAdjust="spacingAndGlyphs" text-anchor="start">9 :</text>
<text x="201" y="578.7" fill="#000" font-size="10.5" textLength="36.4" lengthAdjust="spacingAndGlyphs" text-anchor="start">-37,805</text>
<text x="252.5" y="578.7" fill="#dfa838" font-size="10.5" textLength="21.5" lengthAdjust="spacingAndGlyphs" text-anchor="start">hist :</text>
<text x="283.5" y="578.7" fill="#1414a0" font-size="10.5" textLength="42.7" lengthAdjust="spacingAndGlyphs" text-anchor="start">-0,44412</text>
<text x="1299.8" y="586.8" fill="#cf9a3a" font-size="10" textLength="32" lengthAdjust="spacingAndGlyphs" text-anchor="start">43,726</text>
</svg>
</body></html>
